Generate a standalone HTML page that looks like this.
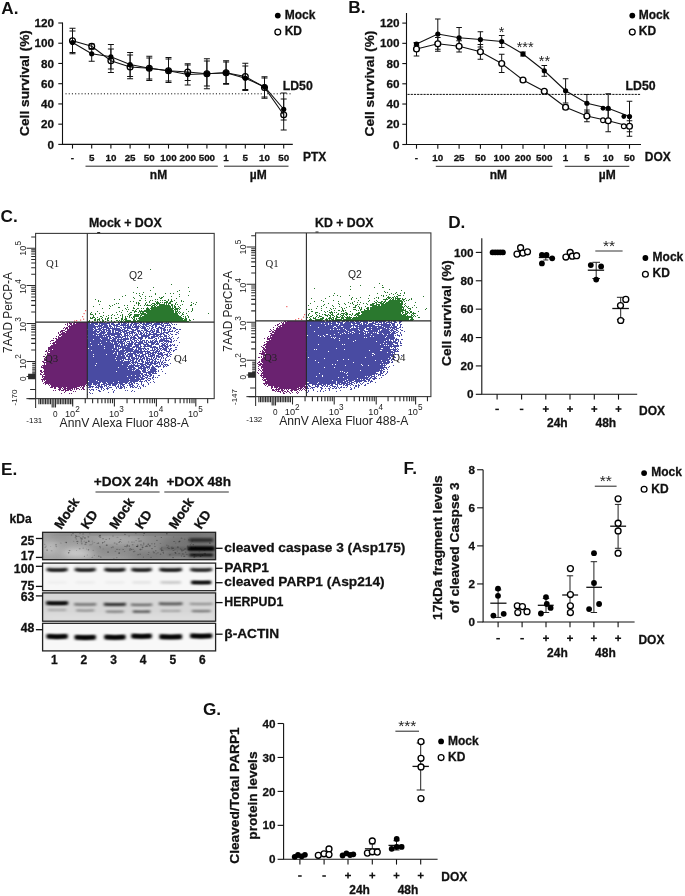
<!DOCTYPE html>
<html><head><meta charset="utf-8"><title>Figure</title><style>html,body{margin:0;padding:0;background:#fff}svg{display:block;will-change:transform}text{white-space:pre}</style></head><body>
<svg width="685" height="896" viewBox="0 0 685 896">
<rect width="685" height="896" fill="#fff"/>
<text x="1.3" y="13.8" font-family="Liberation Sans, sans-serif" font-weight="bold" font-size="17.2" text-anchor="start" fill="#111" >A.</text>
<path d="M62.5 22.6V144.4H292.8" stroke="#111" stroke-width="1.1" fill="none"/>
<line x1="58.3" y1="144.4" x2="62.5" y2="144.4" stroke="#111" stroke-width="1.1" />
<text x="54" y="148.5" font-family="Liberation Sans, sans-serif" font-weight="bold" stroke="#111" stroke-width="0.28" font-size="11.7" text-anchor="end" fill="#111" >0</text>
<line x1="58.3" y1="124.17" x2="62.5" y2="124.17" stroke="#111" stroke-width="1.1" />
<text x="54" y="128.27" font-family="Liberation Sans, sans-serif" font-weight="bold" stroke="#111" stroke-width="0.28" font-size="11.7" text-anchor="end" fill="#111" >20</text>
<line x1="58.3" y1="103.93" x2="62.5" y2="103.93" stroke="#111" stroke-width="1.1" />
<text x="54" y="108.03" font-family="Liberation Sans, sans-serif" font-weight="bold" stroke="#111" stroke-width="0.28" font-size="11.7" text-anchor="end" fill="#111" >40</text>
<line x1="58.3" y1="83.7" x2="62.5" y2="83.7" stroke="#111" stroke-width="1.1" />
<text x="54" y="87.8" font-family="Liberation Sans, sans-serif" font-weight="bold" stroke="#111" stroke-width="0.28" font-size="11.7" text-anchor="end" fill="#111" >60</text>
<line x1="58.3" y1="63.46" x2="62.5" y2="63.46" stroke="#111" stroke-width="1.1" />
<text x="54" y="67.56" font-family="Liberation Sans, sans-serif" font-weight="bold" stroke="#111" stroke-width="0.28" font-size="11.7" text-anchor="end" fill="#111" >80</text>
<line x1="58.3" y1="43.23" x2="62.5" y2="43.23" stroke="#111" stroke-width="1.1" />
<text x="54" y="47.33" font-family="Liberation Sans, sans-serif" font-weight="bold" stroke="#111" stroke-width="0.28" font-size="11.7" text-anchor="end" fill="#111" >100</text>
<line x1="58.3" y1="23" x2="62.5" y2="23" stroke="#111" stroke-width="1.1" />
<text x="54" y="27.1" font-family="Liberation Sans, sans-serif" font-weight="bold" stroke="#111" stroke-width="0.28" font-size="11.7" text-anchor="end" fill="#111" >120</text>
<text x="0" y="0" font-family="Liberation Sans, sans-serif" font-weight="bold" stroke="#111" stroke-width="0.28" font-size="13.7" text-anchor="middle" fill="#111" transform="translate(29.3 83) rotate(-90)" >Cell survival (%)</text>
<line x1="72.5" y1="144.4" x2="72.5" y2="148.6" stroke="#111" stroke-width="1.1" />
<text x="72.5" y="160.7" font-family="Liberation Sans, sans-serif" font-weight="bold" stroke="#111" stroke-width="0.28" font-size="9.8" text-anchor="middle" fill="#111" >-</text>
<line x1="91.7" y1="144.4" x2="91.7" y2="148.6" stroke="#111" stroke-width="1.1" />
<text x="91.7" y="160.7" font-family="Liberation Sans, sans-serif" font-weight="bold" stroke="#111" stroke-width="0.28" font-size="9.8" text-anchor="middle" fill="#111" >5</text>
<line x1="110.9" y1="144.4" x2="110.9" y2="148.6" stroke="#111" stroke-width="1.1" />
<text x="110.9" y="160.7" font-family="Liberation Sans, sans-serif" font-weight="bold" stroke="#111" stroke-width="0.28" font-size="9.8" text-anchor="middle" fill="#111" >10</text>
<line x1="130.1" y1="144.4" x2="130.1" y2="148.6" stroke="#111" stroke-width="1.1" />
<text x="130.1" y="160.7" font-family="Liberation Sans, sans-serif" font-weight="bold" stroke="#111" stroke-width="0.28" font-size="9.8" text-anchor="middle" fill="#111" >25</text>
<line x1="149.3" y1="144.4" x2="149.3" y2="148.6" stroke="#111" stroke-width="1.1" />
<text x="149.3" y="160.7" font-family="Liberation Sans, sans-serif" font-weight="bold" stroke="#111" stroke-width="0.28" font-size="9.8" text-anchor="middle" fill="#111" >50</text>
<line x1="168.5" y1="144.4" x2="168.5" y2="148.6" stroke="#111" stroke-width="1.1" />
<text x="168.5" y="160.7" font-family="Liberation Sans, sans-serif" font-weight="bold" stroke="#111" stroke-width="0.28" font-size="9.8" text-anchor="middle" fill="#111" >100</text>
<line x1="187.7" y1="144.4" x2="187.7" y2="148.6" stroke="#111" stroke-width="1.1" />
<text x="187.7" y="160.7" font-family="Liberation Sans, sans-serif" font-weight="bold" stroke="#111" stroke-width="0.28" font-size="9.8" text-anchor="middle" fill="#111" >200</text>
<line x1="206.9" y1="144.4" x2="206.9" y2="148.6" stroke="#111" stroke-width="1.1" />
<text x="206.9" y="160.7" font-family="Liberation Sans, sans-serif" font-weight="bold" stroke="#111" stroke-width="0.28" font-size="9.8" text-anchor="middle" fill="#111" >500</text>
<line x1="226.1" y1="144.4" x2="226.1" y2="148.6" stroke="#111" stroke-width="1.1" />
<text x="226.1" y="160.7" font-family="Liberation Sans, sans-serif" font-weight="bold" stroke="#111" stroke-width="0.28" font-size="9.8" text-anchor="middle" fill="#111" >1</text>
<line x1="245.3" y1="144.4" x2="245.3" y2="148.6" stroke="#111" stroke-width="1.1" />
<text x="245.3" y="160.7" font-family="Liberation Sans, sans-serif" font-weight="bold" stroke="#111" stroke-width="0.28" font-size="9.8" text-anchor="middle" fill="#111" >5</text>
<line x1="264.5" y1="144.4" x2="264.5" y2="148.6" stroke="#111" stroke-width="1.1" />
<text x="264.5" y="160.7" font-family="Liberation Sans, sans-serif" font-weight="bold" stroke="#111" stroke-width="0.28" font-size="9.8" text-anchor="middle" fill="#111" >10</text>
<line x1="283.7" y1="144.4" x2="283.7" y2="148.6" stroke="#111" stroke-width="1.1" />
<text x="283.7" y="160.7" font-family="Liberation Sans, sans-serif" font-weight="bold" stroke="#111" stroke-width="0.28" font-size="9.8" text-anchor="middle" fill="#111" >50</text>
<text x="303" y="161.2" font-family="Liberation Sans, sans-serif" font-weight="bold" stroke="#111" stroke-width="0.28" font-size="12" text-anchor="start" fill="#111" >PTX</text>
<line x1="85.5" y1="166.2" x2="217.8" y2="166.2" stroke="#111" stroke-width="0.9" />
<line x1="224" y1="166.2" x2="288.5" y2="166.2" stroke="#111" stroke-width="0.9" />
<text x="158.5" y="178.8" font-family="Liberation Sans, sans-serif" font-weight="bold" stroke="#111" stroke-width="0.28" font-size="12" text-anchor="middle" fill="#111" >nM</text>
<text x="258.3" y="178.8" font-family="Liberation Sans, sans-serif" font-weight="bold" stroke="#111" stroke-width="0.28" font-size="12" text-anchor="middle" fill="#111" >µM</text>
<circle cx="277.8" cy="15.6" r="2.9" fill="#000"/>
<text x="284.7" y="19" font-family="Liberation Sans, sans-serif" font-weight="bold" stroke="#111" stroke-width="0.28" font-size="12" text-anchor="start" fill="#111" >Mock</text>
<circle cx="277.8" cy="32.1" r="2.9" fill="#fff" stroke="#000" stroke-width="1.3"/>
<text x="284.7" y="35.3" font-family="Liberation Sans, sans-serif" font-weight="bold" stroke="#111" stroke-width="0.28" font-size="12" text-anchor="start" fill="#111" >KD</text>
<text x="282.7" y="89.6" font-family="Liberation Sans, sans-serif" font-weight="bold" stroke="#111" stroke-width="0.28" font-size="12.3" text-anchor="start" fill="#111" >LD50</text>
<line x1="65.5" y1="93.8" x2="291.3" y2="93.8" stroke="#111" stroke-width="1" stroke-dasharray="1.1 2.1"/>
<path d="M72.5 31V53.75M69.5 31h6M69.5 53.75h6" stroke="#111" stroke-width="1" fill="none"/>
<path d="M91.7 49.25V61.25M88.7 49.25h6M88.7 61.25h6" stroke="#111" stroke-width="1" fill="none"/>
<path d="M110.9 44.5V69M107.9 44.5h6M107.9 69h6" stroke="#111" stroke-width="1" fill="none"/>
<path d="M130.1 52.5V76.5M127.1 52.5h6M127.1 76.5h6" stroke="#111" stroke-width="1" fill="none"/>
<path d="M149.3 56.25V80.5M146.3 56.25h6M146.3 80.5h6" stroke="#111" stroke-width="1" fill="none"/>
<path d="M168.5 59V82.5M165.5 59h6M165.5 82.5h6" stroke="#111" stroke-width="1" fill="none"/>
<path d="M187.7 65V85M184.7 65h6M184.7 85h6" stroke="#111" stroke-width="1" fill="none"/>
<path d="M206.9 61V88.75M203.9 61h6M203.9 88.75h6" stroke="#111" stroke-width="1" fill="none"/>
<path d="M226.1 60.75V84.25M223.1 60.75h6M223.1 84.25h6" stroke="#111" stroke-width="1" fill="none"/>
<path d="M245.3 66V90.5M242.3 66h6M242.3 90.5h6" stroke="#111" stroke-width="1" fill="none"/>
<path d="M264.5 76.75V97M261.5 76.75h6M261.5 97h6" stroke="#111" stroke-width="1" fill="none"/>
<path d="M283.7 99V120M280.7 99h6M280.7 120h6" stroke="#111" stroke-width="1" fill="none"/>
<path d="M72.5 28.25V52.5M69.5 28.25h6M69.5 52.5h6" stroke="#111" stroke-width="1" fill="none"/>
<path d="M91.7 44V48.5M88.7 44h6M88.7 48.5h6" stroke="#111" stroke-width="1" fill="none"/>
<path d="M110.9 49V72.5M107.9 49h6M107.9 72.5h6" stroke="#111" stroke-width="1" fill="none"/>
<path d="M130.1 55V78.75M127.1 55h6M127.1 78.75h6" stroke="#111" stroke-width="1" fill="none"/>
<path d="M149.3 58V79M146.3 58h6M146.3 79h6" stroke="#111" stroke-width="1" fill="none"/>
<path d="M168.5 57.5V81M165.5 57.5h6M165.5 81h6" stroke="#111" stroke-width="1" fill="none"/>
<path d="M187.7 63.75V80.5M184.7 63.75h6M184.7 80.5h6" stroke="#111" stroke-width="1" fill="none"/>
<path d="M206.9 58.75V86M203.9 58.75h6M203.9 86h6" stroke="#111" stroke-width="1" fill="none"/>
<path d="M226.1 62V83.5M223.1 62h6M223.1 83.5h6" stroke="#111" stroke-width="1" fill="none"/>
<path d="M245.3 63.25V89.5M242.3 63.25h6M242.3 89.5h6" stroke="#111" stroke-width="1" fill="none"/>
<path d="M264.5 78V98.25M261.5 78h6M261.5 98.25h6" stroke="#111" stroke-width="1" fill="none"/>
<path d="M283.7 93V130M280.7 93h6M280.7 130h6" stroke="#111" stroke-width="1" fill="none"/>
<polyline points="72.5,42.5 91.7,53.75 110.9,56.75 130.1,64.5 149.3,68.25 168.5,70.75 187.7,74.5 206.9,73.75 226.1,72.75 245.3,78.25 264.5,86.75 283.7,109.25" fill="none" stroke="#111" stroke-width="1.1"/>
<polyline points="72.5,40.75 91.7,46.25 110.9,60.75 130.1,67 149.3,68.25 168.5,70.75 187.7,72 206.9,73.75 226.1,72.75 245.3,76.5 264.5,87.5 283.7,114.75" fill="none" stroke="#111" stroke-width="1.1"/>
<circle cx="72.5" cy="42.5" r="2.6" fill="#000"/>
<circle cx="91.7" cy="53.75" r="2.6" fill="#000"/>
<circle cx="110.9" cy="56.75" r="2.6" fill="#000"/>
<circle cx="130.1" cy="64.5" r="2.6" fill="#000"/>
<circle cx="149.3" cy="68.25" r="2.6" fill="#000"/>
<circle cx="168.5" cy="70.75" r="2.6" fill="#000"/>
<circle cx="187.7" cy="74.5" r="2.6" fill="#000"/>
<circle cx="206.9" cy="73.75" r="2.6" fill="#000"/>
<circle cx="226.1" cy="72.75" r="2.6" fill="#000"/>
<circle cx="245.3" cy="78.25" r="2.6" fill="#000"/>
<circle cx="264.5" cy="86.75" r="2.6" fill="#000"/>
<circle cx="283.7" cy="109.25" r="2.6" fill="#000"/>
<circle cx="72.5" cy="40.75" r="2.9" fill="none" stroke="#000" stroke-width="1.3"/>
<circle cx="91.7" cy="46.25" r="2.9" fill="none" stroke="#000" stroke-width="1.3"/>
<circle cx="110.9" cy="60.75" r="2.9" fill="none" stroke="#000" stroke-width="1.3"/>
<circle cx="130.1" cy="67" r="2.9" fill="none" stroke="#000" stroke-width="1.3"/>
<circle cx="149.3" cy="68.25" r="2.9" fill="none" stroke="#000" stroke-width="1.3"/>
<circle cx="168.5" cy="70.75" r="2.9" fill="none" stroke="#000" stroke-width="1.3"/>
<circle cx="187.7" cy="72" r="2.9" fill="none" stroke="#000" stroke-width="1.3"/>
<circle cx="206.9" cy="73.75" r="2.9" fill="none" stroke="#000" stroke-width="1.3"/>
<circle cx="226.1" cy="72.75" r="2.9" fill="none" stroke="#000" stroke-width="1.3"/>
<circle cx="245.3" cy="76.5" r="2.9" fill="none" stroke="#000" stroke-width="1.3"/>
<circle cx="264.5" cy="87.5" r="2.9" fill="none" stroke="#000" stroke-width="1.3"/>
<circle cx="283.7" cy="114.75" r="2.9" fill="none" stroke="#000" stroke-width="1.3"/>
<text x="348.3" y="13.2" font-family="Liberation Sans, sans-serif" font-weight="bold" font-size="17.2" text-anchor="start" fill="#111" >B.</text>
<path d="M406.5 13V144.5H641" stroke="#111" stroke-width="1.1" fill="none"/>
<line x1="402.3" y1="144.5" x2="406.5" y2="144.5" stroke="#111" stroke-width="1.1" />
<text x="399.4" y="148.6" font-family="Liberation Sans, sans-serif" font-weight="bold" stroke="#111" stroke-width="0.28" font-size="11.7" text-anchor="end" fill="#111" >0</text>
<line x1="402.3" y1="124.27" x2="406.5" y2="124.27" stroke="#111" stroke-width="1.1" />
<text x="399.4" y="128.37" font-family="Liberation Sans, sans-serif" font-weight="bold" stroke="#111" stroke-width="0.28" font-size="11.7" text-anchor="end" fill="#111" >20</text>
<line x1="402.3" y1="104.03" x2="406.5" y2="104.03" stroke="#111" stroke-width="1.1" />
<text x="399.4" y="108.13" font-family="Liberation Sans, sans-serif" font-weight="bold" stroke="#111" stroke-width="0.28" font-size="11.7" text-anchor="end" fill="#111" >40</text>
<line x1="402.3" y1="83.8" x2="406.5" y2="83.8" stroke="#111" stroke-width="1.1" />
<text x="399.4" y="87.9" font-family="Liberation Sans, sans-serif" font-weight="bold" stroke="#111" stroke-width="0.28" font-size="11.7" text-anchor="end" fill="#111" >60</text>
<line x1="402.3" y1="63.56" x2="406.5" y2="63.56" stroke="#111" stroke-width="1.1" />
<text x="399.4" y="67.66" font-family="Liberation Sans, sans-serif" font-weight="bold" stroke="#111" stroke-width="0.28" font-size="11.7" text-anchor="end" fill="#111" >80</text>
<line x1="402.3" y1="43.33" x2="406.5" y2="43.33" stroke="#111" stroke-width="1.1" />
<text x="399.4" y="47.43" font-family="Liberation Sans, sans-serif" font-weight="bold" stroke="#111" stroke-width="0.28" font-size="11.7" text-anchor="end" fill="#111" >100</text>
<line x1="402.3" y1="23.1" x2="406.5" y2="23.1" stroke="#111" stroke-width="1.1" />
<text x="399.4" y="27.2" font-family="Liberation Sans, sans-serif" font-weight="bold" stroke="#111" stroke-width="0.28" font-size="11.7" text-anchor="end" fill="#111" >120</text>
<text x="0" y="0" font-family="Liberation Sans, sans-serif" font-weight="bold" stroke="#111" stroke-width="0.28" font-size="13.7" text-anchor="middle" fill="#111" transform="translate(373.5 83.5) rotate(-90)" >Cell survival (%)</text>
<line x1="416.5" y1="144.5" x2="416.5" y2="148.7" stroke="#111" stroke-width="1.1" />
<text x="416.5" y="160.8" font-family="Liberation Sans, sans-serif" font-weight="bold" stroke="#111" stroke-width="0.28" font-size="9.8" text-anchor="middle" fill="#111" >-</text>
<line x1="437.8" y1="144.5" x2="437.8" y2="148.7" stroke="#111" stroke-width="1.1" />
<text x="437.8" y="160.8" font-family="Liberation Sans, sans-serif" font-weight="bold" stroke="#111" stroke-width="0.28" font-size="9.8" text-anchor="middle" fill="#111" >10</text>
<line x1="459.1" y1="144.5" x2="459.1" y2="148.7" stroke="#111" stroke-width="1.1" />
<text x="459.1" y="160.8" font-family="Liberation Sans, sans-serif" font-weight="bold" stroke="#111" stroke-width="0.28" font-size="9.8" text-anchor="middle" fill="#111" >25</text>
<line x1="480.4" y1="144.5" x2="480.4" y2="148.7" stroke="#111" stroke-width="1.1" />
<text x="480.4" y="160.8" font-family="Liberation Sans, sans-serif" font-weight="bold" stroke="#111" stroke-width="0.28" font-size="9.8" text-anchor="middle" fill="#111" >50</text>
<line x1="501.7" y1="144.5" x2="501.7" y2="148.7" stroke="#111" stroke-width="1.1" />
<text x="501.7" y="160.8" font-family="Liberation Sans, sans-serif" font-weight="bold" stroke="#111" stroke-width="0.28" font-size="9.8" text-anchor="middle" fill="#111" >100</text>
<line x1="523" y1="144.5" x2="523" y2="148.7" stroke="#111" stroke-width="1.1" />
<text x="523" y="160.8" font-family="Liberation Sans, sans-serif" font-weight="bold" stroke="#111" stroke-width="0.28" font-size="9.8" text-anchor="middle" fill="#111" >200</text>
<line x1="544.3" y1="144.5" x2="544.3" y2="148.7" stroke="#111" stroke-width="1.1" />
<text x="544.3" y="160.8" font-family="Liberation Sans, sans-serif" font-weight="bold" stroke="#111" stroke-width="0.28" font-size="9.8" text-anchor="middle" fill="#111" >500</text>
<line x1="565.6" y1="144.5" x2="565.6" y2="148.7" stroke="#111" stroke-width="1.1" />
<text x="565.6" y="160.8" font-family="Liberation Sans, sans-serif" font-weight="bold" stroke="#111" stroke-width="0.28" font-size="9.8" text-anchor="middle" fill="#111" >1</text>
<line x1="586.9" y1="144.5" x2="586.9" y2="148.7" stroke="#111" stroke-width="1.1" />
<text x="586.9" y="160.8" font-family="Liberation Sans, sans-serif" font-weight="bold" stroke="#111" stroke-width="0.28" font-size="9.8" text-anchor="middle" fill="#111" >5</text>
<line x1="608.2" y1="144.5" x2="608.2" y2="148.7" stroke="#111" stroke-width="1.1" />
<text x="608.2" y="160.8" font-family="Liberation Sans, sans-serif" font-weight="bold" stroke="#111" stroke-width="0.28" font-size="9.8" text-anchor="middle" fill="#111" >10</text>
<line x1="629.5" y1="144.5" x2="629.5" y2="148.7" stroke="#111" stroke-width="1.1" />
<text x="629.5" y="160.8" font-family="Liberation Sans, sans-serif" font-weight="bold" stroke="#111" stroke-width="0.28" font-size="9.8" text-anchor="middle" fill="#111" >50</text>
<text x="644.8" y="161.3" font-family="Liberation Sans, sans-serif" font-weight="bold" stroke="#111" stroke-width="0.28" font-size="12" text-anchor="start" fill="#111" >DOX</text>
<line x1="435.8" y1="166.3" x2="552.5" y2="166.3" stroke="#111" stroke-width="0.9" />
<line x1="564.8" y1="166.3" x2="629.3" y2="166.3" stroke="#111" stroke-width="0.9" />
<text x="498.3" y="178.9" font-family="Liberation Sans, sans-serif" font-weight="bold" stroke="#111" stroke-width="0.28" font-size="12" text-anchor="middle" fill="#111" >nM</text>
<text x="607.2" y="178.9" font-family="Liberation Sans, sans-serif" font-weight="bold" stroke="#111" stroke-width="0.28" font-size="12" text-anchor="middle" fill="#111" >µM</text>
<circle cx="632.3" cy="15.6" r="2.9" fill="#000"/>
<text x="638.8" y="19" font-family="Liberation Sans, sans-serif" font-weight="bold" stroke="#111" stroke-width="0.28" font-size="12" text-anchor="start" fill="#111" >Mock</text>
<circle cx="632.3" cy="32.1" r="2.9" fill="#fff" stroke="#000" stroke-width="1.3"/>
<text x="638.8" y="35.3" font-family="Liberation Sans, sans-serif" font-weight="bold" stroke="#111" stroke-width="0.28" font-size="12" text-anchor="start" fill="#111" >KD</text>
<text x="625.5" y="89.6" font-family="Liberation Sans, sans-serif" font-weight="bold" stroke="#111" stroke-width="0.28" font-size="12.3" text-anchor="start" fill="#111" >LD50</text>
<line x1="407.5" y1="94.4" x2="641" y2="94.4" stroke="#111" stroke-width="1" stroke-dasharray="2.2 1"/>
<path d="M416.5 42.5V45.75M413.7 42.5h5.6M413.7 45.75h5.6" stroke="#111" stroke-width="1" fill="none"/>
<path d="M437.8 19V49.25M435 19h5.6M435 49.25h5.6" stroke="#111" stroke-width="1" fill="none"/>
<path d="M459.1 27.5V47.5M456.3 27.5h5.6M456.3 47.5h5.6" stroke="#111" stroke-width="1" fill="none"/>
<path d="M480.4 31.75V47M477.6 31.75h5.6M477.6 47h5.6" stroke="#111" stroke-width="1" fill="none"/>
<path d="M501.7 35.5V47.5M498.9 35.5h5.6M498.9 47.5h5.6" stroke="#111" stroke-width="1" fill="none"/>
<path d="M523 52V56M520.2 52h5.6M520.2 56h5.6" stroke="#111" stroke-width="1" fill="none"/>
<path d="M544.3 65.5V76.25M541.5 65.5h5.6M541.5 76.25h5.6" stroke="#111" stroke-width="1" fill="none"/>
<path d="M565.6 78.75V103M562.8 78.75h5.6M562.8 103h5.6" stroke="#111" stroke-width="1" fill="none"/>
<path d="M586.9 94.5V112M584.1 94.5h5.6M584.1 112h5.6" stroke="#111" stroke-width="1" fill="none"/>
<path d="M608.2 93.75V122.5M605.4 93.75h5.6M605.4 122.5h5.6" stroke="#111" stroke-width="1" fill="none"/>
<path d="M629.5 101.25V131.75M626.7 101.25h5.6M626.7 131.75h5.6" stroke="#111" stroke-width="1" fill="none"/>
<path d="M416.5 43V56M413.7 43h5.6M413.7 56h5.6" stroke="#111" stroke-width="1" fill="none"/>
<path d="M437.8 37.5V51.25M435 37.5h5.6M435 51.25h5.6" stroke="#111" stroke-width="1" fill="none"/>
<path d="M459.1 40.75V52M456.3 40.75h5.6M456.3 52h5.6" stroke="#111" stroke-width="1" fill="none"/>
<path d="M480.4 44.5V59.25M477.6 44.5h5.6M477.6 59.25h5.6" stroke="#111" stroke-width="1" fill="none"/>
<path d="M501.7 54.25V72.5M498.9 54.25h5.6M498.9 72.5h5.6" stroke="#111" stroke-width="1" fill="none"/>
<path d="M565.6 105V109.25M562.8 105h5.6M562.8 109.25h5.6" stroke="#111" stroke-width="1" fill="none"/>
<path d="M586.9 110V121.75M584.1 110h5.6M584.1 121.75h5.6" stroke="#111" stroke-width="1" fill="none"/>
<path d="M608.2 110V131.75M605.4 110h5.6M605.4 131.75h5.6" stroke="#111" stroke-width="1" fill="none"/>
<path d="M629.5 120.75V136.25M626.7 120.75h5.6M626.7 136.25h5.6" stroke="#111" stroke-width="1" fill="none"/>
<polyline points="416.5,44 437.8,34 459.1,37.75 480.4,39.5 501.7,41.5 523,54 544.3,70.75 565.6,90.75 586.9,103.25 608.2,108.25 629.5,116.5" fill="none" stroke="#111" stroke-width="1.1"/>
<polyline points="416.5,49 437.8,43.75 459.1,46.25 480.4,51.75 501.7,63.5 523,80 544.3,91.25 565.6,107.25 586.9,116 608.2,120.75 629.5,126.25" fill="none" stroke="#111" stroke-width="1.1"/>
<circle cx="416.5" cy="44" r="2.6" fill="#000"/>
<circle cx="437.8" cy="34" r="2.6" fill="#000"/>
<circle cx="459.1" cy="37.75" r="2.6" fill="#000"/>
<circle cx="480.4" cy="39.5" r="2.6" fill="#000"/>
<circle cx="501.7" cy="41.5" r="2.6" fill="#000"/>
<circle cx="523" cy="54" r="2.6" fill="#000"/>
<circle cx="544.3" cy="70.75" r="2.6" fill="#000"/>
<circle cx="565.6" cy="90.75" r="2.6" fill="#000"/>
<circle cx="586.9" cy="103.25" r="2.6" fill="#000"/>
<circle cx="608.2" cy="108.25" r="2.6" fill="#000"/>
<circle cx="629.5" cy="116.5" r="2.6" fill="#000"/>
<circle cx="603" cy="108.25" r="2.4" fill="#000"/>
<circle cx="623.8" cy="116.5" r="2.4" fill="#000"/>
<circle cx="603" cy="120.25" r="2.4" fill="#fff" stroke="#000" stroke-width="1.1"/>
<circle cx="623.8" cy="126.25" r="2.4" fill="#fff" stroke="#000" stroke-width="1.1"/>
<circle cx="416.5" cy="49" r="2.9" fill="#fff" stroke="#000" stroke-width="1.4"/>
<circle cx="437.8" cy="43.75" r="2.9" fill="#fff" stroke="#000" stroke-width="1.4"/>
<circle cx="459.1" cy="46.25" r="2.9" fill="#fff" stroke="#000" stroke-width="1.4"/>
<circle cx="480.4" cy="51.75" r="2.9" fill="#fff" stroke="#000" stroke-width="1.4"/>
<circle cx="501.7" cy="63.5" r="2.9" fill="#fff" stroke="#000" stroke-width="1.4"/>
<circle cx="523" cy="80" r="2.9" fill="#fff" stroke="#000" stroke-width="1.4"/>
<circle cx="544.3" cy="91.25" r="2.9" fill="#fff" stroke="#000" stroke-width="1.4"/>
<circle cx="565.6" cy="107.25" r="2.9" fill="#fff" stroke="#000" stroke-width="1.4"/>
<circle cx="586.9" cy="116" r="2.9" fill="#fff" stroke="#000" stroke-width="1.4"/>
<circle cx="608.2" cy="120.75" r="2.9" fill="#fff" stroke="#000" stroke-width="1.4"/>
<circle cx="629.5" cy="126.25" r="2.9" fill="#fff" stroke="#000" stroke-width="1.4"/>
<text x="501.7" y="36.6" font-family="Liberation Sans, sans-serif" font-size="14.5" text-anchor="middle" fill="#222" >*</text>
<text x="525.2" y="52.1" font-family="Liberation Sans, sans-serif" font-size="14.5" text-anchor="middle" fill="#222" >***</text>
<text x="544.4" y="66.3" font-family="Liberation Sans, sans-serif" font-size="14.5" text-anchor="middle" fill="#222" >**</text>
<defs><filter id="sb" x="-5%" y="-5%" width="110%" height="110%"><feGaussianBlur stdDeviation="0.35"/></filter></defs>
<path d="M69 322.5h1M72 322.5h1M74 322.5h13M67 323.5h1M69 323.5h3M73 323.5h2M76 323.5h11M65 324.5h1M67 324.5h1M70 324.5h2M73 324.5h14M67 325.5h1M69 325.5h1M71 325.5h16M68 326.5h19M64 327.5h1M66 327.5h2M69 327.5h18M63 328.5h1M65 328.5h3M69 328.5h18M65 329.5h1M67 329.5h20M61 330.5h4M67 330.5h20M60 331.5h3M65 331.5h22M58 332.5h1M60 332.5h1M62 332.5h3M66 332.5h21M58 333.5h1M61 333.5h26M59 334.5h28M59 335.5h2M62 335.5h25M56 336.5h1M58 336.5h1M61 336.5h26M58 337.5h29M53 338.5h1M55 338.5h2M58 338.5h29M56 339.5h31M51 340.5h3M56 340.5h31M50 341.5h1M55 341.5h32M53 342.5h34M50 343.5h1M52 343.5h3M56 343.5h31M53 344.5h34M51 345.5h36M50 346.5h37M48 347.5h39M48 348.5h39M48 349.5h4M53 349.5h34M46 350.5h1M48 350.5h1M50 350.5h37M45 351.5h2M48 351.5h39M47 352.5h1M50 352.5h37M47 353.5h40M45 354.5h1M47 354.5h40M47 355.5h40M43 356.5h2M47 356.5h40M45 357.5h42M44 358.5h1M46 358.5h41M44 359.5h43M44 360.5h43M42 361.5h2M46 361.5h41M43 362.5h44M44 363.5h1M46 363.5h41M44 364.5h1M46 364.5h41M42 365.5h45M41 366.5h1M43 366.5h44M41 367.5h46M43 368.5h44M44 369.5h43M40 370.5h2M44 370.5h43M40 371.5h2M43 371.5h44M41 372.5h2M44 372.5h43M40 373.5h1M44 373.5h43M40 374.5h2M43 374.5h44M42 375.5h1M45 375.5h42M42 376.5h45M42 377.5h1M44 377.5h43M43 378.5h44M41 379.5h46M42 380.5h1M44 380.5h1M46 380.5h41M42 381.5h1M45 381.5h42M44 382.5h43M43 383.5h1M45 383.5h42M45 384.5h1M48 384.5h1M50 384.5h36M49 385.5h1M51 385.5h34M86 385.5h1M51 386.5h29M81 386.5h1M83 386.5h2M50 387.5h3M54 387.5h2M58 387.5h4M63 387.5h3M67 387.5h10M80 387.5h1M82 387.5h2M54 388.5h2M59 388.5h2M62 388.5h1M64 388.5h9M74 388.5h1M76 388.5h3M82 388.5h2M58 389.5h3M63 389.5h3M67 389.5h4M72 389.5h1M74 389.5h1M76 389.5h1M79 389.5h1M81 389.5h1M83 389.5h2M53 390.5h1M55 390.5h1M59 390.5h1M61 390.5h3M65 390.5h4M70 390.5h2M65 391.5h1M73 391.5h1M75 391.5h1M64 392.5h1M61 393.5h1M69 393.5h1M71 393.5h1" stroke="#6a2070" stroke-width="1" fill="none" filter="url(#sb)"/>
<path d="M87 322.5h16M104 322.5h1M107 322.5h4M112 322.5h4M118 322.5h8M127 322.5h2M131 322.5h5M139 322.5h3M143 322.5h1M146 322.5h4M151 322.5h3M156 322.5h7M166 322.5h1M168 322.5h1M170 322.5h1M87 323.5h3M91 323.5h7M99 323.5h11M111 323.5h3M118 323.5h2M121 323.5h1M123 323.5h4M128 323.5h1M131 323.5h2M134 323.5h5M140 323.5h2M143 323.5h2M146 323.5h6M154 323.5h6M161 323.5h2M164 323.5h5M171 323.5h1M87 324.5h7M95 324.5h3M99 324.5h1M101 324.5h6M109 324.5h1M111 324.5h4M116 324.5h4M121 324.5h5M127 324.5h2M130 324.5h2M133 324.5h4M139 324.5h1M142 324.5h7M151 324.5h1M153 324.5h9M163 324.5h1M167 324.5h1M169 324.5h1M172 324.5h1M174 324.5h1M176 324.5h1M87 325.5h8M98 325.5h5M104 325.5h4M109 325.5h2M113 325.5h5M120 325.5h9M130 325.5h2M133 325.5h1M135 325.5h2M138 325.5h1M140 325.5h1M143 325.5h1M145 325.5h2M149 325.5h2M152 325.5h2M155 325.5h2M161 325.5h3M165 325.5h6M87 326.5h15M103 326.5h5M109 326.5h3M114 326.5h1M116 326.5h4M123 326.5h1M125 326.5h1M127 326.5h4M132 326.5h1M134 326.5h6M141 326.5h4M146 326.5h3M151 326.5h2M155 326.5h2M159 326.5h1M162 326.5h2M165 326.5h1M170 326.5h1M87 327.5h9M97 327.5h1M99 327.5h1M101 327.5h8M110 327.5h1M112 327.5h1M114 327.5h1M116 327.5h1M120 327.5h2M123 327.5h8M132 327.5h7M140 327.5h1M142 327.5h4M149 327.5h1M152 327.5h2M155 327.5h1M158 327.5h4M164 327.5h2M167 327.5h1M169 327.5h1M171 327.5h1M173 327.5h2M87 328.5h6M94 328.5h2M98 328.5h4M103 328.5h1M106 328.5h14M121 328.5h1M124 328.5h2M127 328.5h5M136 328.5h3M141 328.5h5M147 328.5h1M149 328.5h1M151 328.5h2M156 328.5h3M160 328.5h5M170 328.5h1M173 328.5h3M88 329.5h6M95 329.5h6M102 329.5h5M108 329.5h2M112 329.5h9M122 329.5h3M127 329.5h1M131 329.5h3M135 329.5h3M144 329.5h3M148 329.5h1M151 329.5h1M153 329.5h2M157 329.5h2M161 329.5h1M163 329.5h3M167 329.5h1M169 329.5h2M176 329.5h2M179 329.5h2M87 330.5h6M94 330.5h3M99 330.5h3M103 330.5h2M106 330.5h5M112 330.5h2M115 330.5h8M124 330.5h5M132 330.5h4M137 330.5h3M141 330.5h2M144 330.5h4M150 330.5h3M154 330.5h1M156 330.5h3M161 330.5h1M163 330.5h3M167 330.5h1M169 330.5h1M172 330.5h1M175 330.5h1M87 331.5h13M101 331.5h4M106 331.5h1M108 331.5h3M112 331.5h2M115 331.5h1M118 331.5h3M122 331.5h5M129 331.5h5M137 331.5h4M143 331.5h1M146 331.5h5M152 331.5h3M156 331.5h3M161 331.5h1M164 331.5h1M168 331.5h5M174 331.5h1M178 331.5h1M87 332.5h9M97 332.5h2M100 332.5h6M107 332.5h4M112 332.5h2M115 332.5h4M120 332.5h2M123 332.5h2M126 332.5h4M131 332.5h5M138 332.5h1M140 332.5h2M143 332.5h1M145 332.5h2M149 332.5h1M151 332.5h3M156 332.5h4M161 332.5h1M163 332.5h6M176 332.5h2M87 333.5h10M99 333.5h6M107 333.5h14M124 333.5h4M129 333.5h4M134 333.5h1M136 333.5h1M138 333.5h1M140 333.5h3M144 333.5h1M146 333.5h2M149 333.5h2M153 333.5h4M160 333.5h4M166 333.5h2M170 333.5h1M178 333.5h1M87 334.5h6M94 334.5h8M103 334.5h1M105 334.5h17M124 334.5h2M127 334.5h1M129 334.5h1M132 334.5h1M135 334.5h3M139 334.5h3M143 334.5h2M146 334.5h1M148 334.5h14M163 334.5h2M168 334.5h1M171 334.5h2M175 334.5h2M88 335.5h8M97 335.5h1M99 335.5h8M108 335.5h2M111 335.5h4M117 335.5h3M121 335.5h1M124 335.5h5M130 335.5h1M132 335.5h1M134 335.5h4M141 335.5h9M153 335.5h2M156 335.5h3M160 335.5h1M164 335.5h3M169 335.5h1M87 336.5h16M104 336.5h1M106 336.5h5M114 336.5h7M122 336.5h4M127 336.5h1M129 336.5h1M131 336.5h1M133 336.5h2M137 336.5h2M141 336.5h8M151 336.5h7M159 336.5h4M164 336.5h3M168 336.5h1M172 336.5h1M87 337.5h21M109 337.5h2M112 337.5h2M115 337.5h8M125 337.5h1M127 337.5h1M130 337.5h6M138 337.5h5M145 337.5h2M148 337.5h2M151 337.5h4M158 337.5h1M160 337.5h1M163 337.5h1M166 337.5h1M169 337.5h1M171 337.5h1M178 337.5h1M88 338.5h12M101 338.5h7M109 338.5h3M113 338.5h4M118 338.5h1M121 338.5h1M123 338.5h6M130 338.5h2M133 338.5h4M138 338.5h5M145 338.5h1M148 338.5h5M155 338.5h2M158 338.5h1M161 338.5h1M163 338.5h8M173 338.5h1M177 338.5h1M87 339.5h6M94 339.5h7M102 339.5h8M112 339.5h4M117 339.5h12M130 339.5h1M132 339.5h3M137 339.5h1M140 339.5h2M154 339.5h1M156 339.5h1M160 339.5h5M166 339.5h1M170 339.5h2M87 340.5h29M117 340.5h2M120 340.5h2M123 340.5h3M130 340.5h2M134 340.5h3M138 340.5h1M140 340.5h1M142 340.5h3M146 340.5h2M150 340.5h1M152 340.5h2M155 340.5h2M159 340.5h10M171 340.5h1M174 340.5h1M176 340.5h1M87 341.5h19M107 341.5h3M111 341.5h13M125 341.5h1M127 341.5h3M131 341.5h2M134 341.5h1M136 341.5h1M139 341.5h4M144 341.5h1M146 341.5h1M148 341.5h1M150 341.5h3M154 341.5h4M159 341.5h4M164 341.5h8M173 341.5h1M87 342.5h3M91 342.5h9M101 342.5h10M112 342.5h1M114 342.5h3M118 342.5h5M124 342.5h1M126 342.5h1M129 342.5h1M131 342.5h3M135 342.5h8M144 342.5h3M148 342.5h8M157 342.5h1M159 342.5h1M163 342.5h1M166 342.5h1M168 342.5h1M170 342.5h2M179 342.5h1M87 343.5h26M114 343.5h5M120 343.5h5M127 343.5h6M134 343.5h2M138 343.5h6M146 343.5h2M151 343.5h4M156 343.5h3M161 343.5h2M164 343.5h2M167 343.5h1M87 344.5h11M99 344.5h2M102 344.5h16M119 344.5h1M121 344.5h2M124 344.5h1M126 344.5h1M128 344.5h5M134 344.5h7M143 344.5h6M151 344.5h3M155 344.5h4M162 344.5h3M166 344.5h2M170 344.5h1M172 344.5h1M174 344.5h1M87 345.5h4M92 345.5h22M115 345.5h5M121 345.5h2M124 345.5h8M135 345.5h4M140 345.5h1M144 345.5h2M147 345.5h5M159 345.5h1M161 345.5h5M167 345.5h1M169 345.5h3M173 345.5h2M177 345.5h1M87 346.5h17M105 346.5h9M115 346.5h11M127 346.5h5M133 346.5h6M140 346.5h2M143 346.5h9M153 346.5h3M159 346.5h4M164 346.5h5M170 346.5h1M87 347.5h27M115 347.5h2M118 347.5h1M120 347.5h10M132 347.5h3M136 347.5h5M144 347.5h1M150 347.5h8M159 347.5h1M162 347.5h2M165 347.5h3M175 347.5h2M87 348.5h1M89 348.5h15M105 348.5h12M118 348.5h3M122 348.5h11M136 348.5h1M138 348.5h8M147 348.5h2M152 348.5h1M154 348.5h1M156 348.5h2M159 348.5h3M163 348.5h4M168 348.5h1M170 348.5h2M87 349.5h25M113 349.5h6M122 349.5h2M125 349.5h9M135 349.5h2M138 349.5h4M143 349.5h1M145 349.5h2M148 349.5h1M152 349.5h1M154 349.5h2M157 349.5h2M160 349.5h1M162 349.5h5M169 349.5h2M175 349.5h2M87 350.5h4M92 350.5h23M116 350.5h3M120 350.5h13M134 350.5h5M140 350.5h2M144 350.5h1M147 350.5h1M150 350.5h5M156 350.5h2M159 350.5h1M161 350.5h1M164 350.5h3M169 350.5h1M171 350.5h1M173 350.5h2M87 351.5h38M126 351.5h24M153 351.5h1M155 351.5h5M166 351.5h4M173 351.5h1M87 352.5h27M115 352.5h2M118 352.5h6M125 352.5h3M130 352.5h1M133 352.5h10M145 352.5h1M147 352.5h4M152 352.5h5M158 352.5h1M160 352.5h2M163 352.5h2M168 352.5h1M170 352.5h1M87 353.5h26M114 353.5h3M118 353.5h8M128 353.5h8M137 353.5h2M140 353.5h3M145 353.5h4M150 353.5h4M155 353.5h1M157 353.5h6M167 353.5h1M169 353.5h1M87 354.5h6M94 354.5h12M107 354.5h10M118 354.5h6M125 354.5h1M127 354.5h6M134 354.5h3M139 354.5h1M142 354.5h4M148 354.5h3M152 354.5h3M158 354.5h5M164 354.5h4M170 354.5h2M87 355.5h34M122 355.5h3M126 355.5h2M129 355.5h4M135 355.5h5M141 355.5h3M145 355.5h1M148 355.5h1M150 355.5h5M156 355.5h3M161 355.5h3M166 355.5h2M169 355.5h1M87 356.5h6M94 356.5h22M117 356.5h8M126 356.5h7M135 356.5h2M138 356.5h6M145 356.5h2M148 356.5h5M154 356.5h1M156 356.5h5M162 356.5h1M167 356.5h2M170 356.5h1M87 357.5h39M128 357.5h2M131 357.5h4M136 357.5h1M138 357.5h1M140 357.5h2M143 357.5h2M146 357.5h2M151 357.5h1M153 357.5h2M156 357.5h1M158 357.5h2M161 357.5h1M163 357.5h1M166 357.5h1M87 358.5h28M116 358.5h10M128 358.5h2M131 358.5h8M140 358.5h1M142 358.5h3M146 358.5h4M151 358.5h1M153 358.5h1M155 358.5h2M161 358.5h1M163 358.5h1M165 358.5h1M174 358.5h1M87 359.5h35M123 359.5h1M125 359.5h6M132 359.5h3M136 359.5h2M139 359.5h4M144 359.5h1M146 359.5h2M149 359.5h4M154 359.5h2M157 359.5h2M160 359.5h1M165 359.5h1M169 359.5h1M87 360.5h29M117 360.5h3M121 360.5h3M128 360.5h1M130 360.5h4M136 360.5h1M138 360.5h2M141 360.5h2M146 360.5h4M152 360.5h2M155 360.5h1M160 360.5h1M163 360.5h1M165 360.5h2M168 360.5h1M87 361.5h36M124 361.5h7M132 361.5h2M135 361.5h2M138 361.5h2M141 361.5h3M145 361.5h1M147 361.5h1M149 361.5h1M151 361.5h2M154 361.5h3M158 361.5h1M160 361.5h1M162 361.5h1M87 362.5h43M131 362.5h7M142 362.5h2M145 362.5h8M154 362.5h2M157 362.5h3M161 362.5h2M164 362.5h2M87 363.5h9M97 363.5h34M132 363.5h2M135 363.5h1M137 363.5h6M145 363.5h4M150 363.5h8M159 363.5h1M161 363.5h1M163 363.5h1M170 363.5h1M87 364.5h35M123 364.5h6M131 364.5h1M133 364.5h2M137 364.5h1M140 364.5h6M147 364.5h5M154 364.5h2M159 364.5h1M161 364.5h2M164 364.5h4M87 365.5h8M96 365.5h32M129 365.5h11M141 365.5h3M145 365.5h2M149 365.5h2M152 365.5h1M156 365.5h2M160 365.5h1M163 365.5h1M165 365.5h1M167 365.5h2M87 366.5h47M135 366.5h4M140 366.5h5M146 366.5h4M152 366.5h2M155 366.5h6M163 366.5h2M166 366.5h1M87 367.5h31M119 367.5h8M128 367.5h7M138 367.5h4M143 367.5h7M151 367.5h4M158 367.5h1M163 367.5h1M87 368.5h45M133 368.5h3M138 368.5h8M147 368.5h1M149 368.5h1M151 368.5h5M87 369.5h41M129 369.5h6M136 369.5h3M141 369.5h1M143 369.5h3M148 369.5h1M150 369.5h7M161 369.5h1M87 370.5h45M133 370.5h1M135 370.5h5M142 370.5h4M147 370.5h1M150 370.5h6M158 370.5h1M87 371.5h29M117 371.5h24M142 371.5h4M148 371.5h9M158 371.5h1M162 371.5h1M87 372.5h54M143 372.5h11M155 372.5h1M87 373.5h56M146 373.5h1M148 373.5h3M152 373.5h5M165 373.5h1M87 374.5h53M141 374.5h2M144 374.5h3M149 374.5h3M87 375.5h44M132 375.5h3M136 375.5h5M142 375.5h2M145 375.5h4M150 375.5h2M153 375.5h1M158 375.5h2M87 376.5h40M128 376.5h13M142 376.5h3M147 376.5h1M149 376.5h2M153 376.5h1M87 377.5h52M140 377.5h3M145 377.5h3M152 377.5h2M155 377.5h1M157 377.5h1M87 378.5h48M136 378.5h4M141 378.5h4M146 378.5h1M148 378.5h3M152 378.5h1M87 379.5h42M130 379.5h14M147 379.5h1M150 379.5h1M153 379.5h1M87 380.5h9M97 380.5h42M140 380.5h1M145 380.5h2M148 380.5h2M87 381.5h1M89 381.5h9M99 381.5h19M119 381.5h10M130 381.5h8M139 381.5h4M144 381.5h1M146 381.5h1M153 381.5h1M87 382.5h14M102 382.5h4M107 382.5h6M114 382.5h14M129 382.5h3M133 382.5h2M141 382.5h1M147 382.5h1M150 382.5h1M154 382.5h1M87 383.5h5M93 383.5h7M103 383.5h4M108 383.5h10M119 383.5h4M125 383.5h2M128 383.5h2M131 383.5h2M134 383.5h1M136 383.5h2M141 383.5h1M148 383.5h1M87 384.5h5M93 384.5h4M98 384.5h2M101 384.5h4M106 384.5h5M112 384.5h5M118 384.5h1M120 384.5h5M129 384.5h4M138 384.5h1M141 384.5h1M143 384.5h1M148 384.5h1M88 385.5h3M95 385.5h1M97 385.5h3M101 385.5h1M104 385.5h3M109 385.5h2M112 385.5h4M118 385.5h1M120 385.5h1M122 385.5h2M127 385.5h1M129 385.5h2M132 385.5h2M137 385.5h1M142 385.5h2M87 386.5h1M89 386.5h5M96 386.5h1M98 386.5h5M104 386.5h1M106 386.5h1M108 386.5h1M115 386.5h1M117 386.5h2M120 386.5h2M123 386.5h2M130 386.5h3M134 386.5h1M137 386.5h1M139 386.5h1M143 386.5h1M145 386.5h1M88 387.5h3M92 387.5h1M95 387.5h4M100 387.5h3M107 387.5h1M109 387.5h3M116 387.5h1M118 387.5h1M120 387.5h3M124 387.5h1M126 387.5h1M130 387.5h1M132 387.5h2M135 387.5h2M140 387.5h1M98 388.5h1M101 388.5h1M103 388.5h1M106 388.5h3M116 388.5h1M119 388.5h3M124 388.5h1M138 388.5h1M140 388.5h1M87 389.5h1M89 389.5h1M91 389.5h3M96 389.5h1M101 389.5h1M104 389.5h1M107 389.5h1M112 389.5h1M90 390.5h1M93 390.5h1M98 390.5h2M103 390.5h1M114 390.5h1M125 390.5h1M127 390.5h1M132 390.5h1M99 391.5h2M113 391.5h1M131 391.5h1M134 391.5h1M89 392.5h1M108 392.5h1M113 392.5h1M90 393.5h1M92 393.5h1M87 394.5h1" stroke="#484ca2" stroke-width="1" fill="none" filter="url(#sb)"/>
<path d="M150 269.5h1M171 284.5h1M137 287.5h1M153 287.5h1M188 287.5h1M150 290.5h1M179 290.5h1M177 291.5h1M189 291.5h1M133 292.5h1M143 292.5h1M136 293.5h1M139 293.5h1M155 293.5h1M165 293.5h1M170 293.5h1M173 293.5h1M142 294.5h1M155 294.5h1M179 294.5h1M125 295.5h1M139 295.5h1M188 295.5h1M122 296.5h1M140 296.5h1M145 296.5h1M149 296.5h1M151 296.5h1M163 296.5h1M171 296.5h1M179 296.5h1M133 297.5h1M159 297.5h1M161 297.5h2M134 298.5h1M141 298.5h1M145 298.5h1M160 298.5h2M176 298.5h1M95 299.5h1M114 299.5h1M119 299.5h1M155 299.5h1M157 299.5h1M168 299.5h1M171 299.5h1M98 300.5h1M139 300.5h2M145 300.5h1M150 300.5h1M152 300.5h1M160 300.5h1M162 300.5h1M164 300.5h2M168 300.5h1M171 300.5h1M174 300.5h1M181 300.5h1M98 301.5h1M100 301.5h1M130 301.5h1M133 301.5h1M149 301.5h1M155 301.5h1M157 301.5h1M166 301.5h2M170 301.5h3M181 301.5h1M183 301.5h1M136 302.5h1M138 302.5h1M146 302.5h1M149 302.5h1M156 302.5h3M160 302.5h1M162 302.5h1M164 302.5h4M169 302.5h2M176 302.5h1M191 302.5h1M196 302.5h1M116 303.5h1M118 303.5h1M136 303.5h1M138 303.5h2M145 303.5h1M152 303.5h3M156 303.5h4M164 303.5h1M166 303.5h1M168 303.5h3M175 303.5h1M193 303.5h1M99 304.5h1M114 304.5h1M138 304.5h1M145 304.5h1M147 304.5h1M151 304.5h1M154 304.5h2M157 304.5h1M159 304.5h6M166 304.5h1M168 304.5h1M171 304.5h2M175 304.5h1M177 304.5h1M182 304.5h1M191 304.5h1M195 304.5h1M109 305.5h1M112 305.5h1M124 305.5h1M127 305.5h1M134 305.5h1M138 305.5h1M140 305.5h1M144 305.5h1M146 305.5h5M152 305.5h3M156 305.5h1M159 305.5h11M171 305.5h2M174 305.5h1M180 305.5h1M190 305.5h2M93 306.5h1M110 306.5h1M151 306.5h2M154 306.5h2M157 306.5h14M172 306.5h1M174 306.5h2M178 306.5h1M118 307.5h2M127 307.5h1M133 307.5h1M147 307.5h1M151 307.5h20M172 307.5h1M174 307.5h2M179 307.5h1M102 308.5h1M109 308.5h1M125 308.5h1M133 308.5h2M137 308.5h2M141 308.5h1M143 308.5h1M146 308.5h3M150 308.5h24M175 308.5h4M180 308.5h1M192 308.5h1M126 309.5h1M128 309.5h1M136 309.5h1M146 309.5h4M151 309.5h22M174 309.5h4M179 309.5h1M186 309.5h1M192 309.5h1M122 310.5h1M132 310.5h2M135 310.5h1M139 310.5h1M141 310.5h1M144 310.5h30M175 310.5h1M177 310.5h1M192 310.5h1M97 311.5h1M119 311.5h1M127 311.5h1M134 311.5h3M139 311.5h35M175 311.5h3M179 311.5h1M188 311.5h1M191 311.5h1M91 312.5h1M103 312.5h1M116 312.5h1M121 312.5h1M130 312.5h2M134 312.5h1M138 312.5h1M140 312.5h1M142 312.5h2M146 312.5h28M175 312.5h2M178 312.5h1M180 312.5h1M183 312.5h1M90 313.5h1M95 313.5h1M99 313.5h1M129 313.5h1M140 313.5h6M147 313.5h31M179 313.5h1M182 313.5h1M186 313.5h1M208 313.5h1M90 314.5h3M95 314.5h1M112 314.5h1M117 314.5h1M122 314.5h1M128 314.5h1M130 314.5h2M134 314.5h6M141 314.5h37M182 314.5h2M93 315.5h1M103 315.5h1M108 315.5h1M111 315.5h1M114 315.5h1M120 315.5h1M122 315.5h1M129 315.5h2M134 315.5h5M140 315.5h2M144 315.5h35M181 315.5h1M187 315.5h1M93 316.5h1M100 316.5h2M106 316.5h1M122 316.5h1M125 316.5h1M127 316.5h1M129 316.5h1M133 316.5h6M140 316.5h1M142 316.5h39M183 316.5h1M185 316.5h1M188 316.5h1M90 317.5h1M92 317.5h3M97 317.5h1M102 317.5h1M108 317.5h1M111 317.5h1M118 317.5h1M122 317.5h1M125 317.5h1M129 317.5h1M131 317.5h1M133 317.5h2M139 317.5h43M185 317.5h1M188 317.5h1M90 318.5h3M95 318.5h1M99 318.5h1M101 318.5h1M105 318.5h1M107 318.5h2M111 318.5h1M115 318.5h2M121 318.5h2M125 318.5h2M132 318.5h1M134 318.5h1M136 318.5h1M138 318.5h46M185 318.5h2M94 319.5h2M97 319.5h3M102 319.5h1M105 319.5h1M107 319.5h1M121 319.5h2M124 319.5h3M133 319.5h2M136 319.5h1M139 319.5h44M184 319.5h3M189 319.5h1M193 319.5h1M89 320.5h1M94 320.5h2M97 320.5h1M99 320.5h1M102 320.5h2M107 320.5h2M111 320.5h1M116 320.5h2M119 320.5h1M121 320.5h1M123 320.5h1M125 320.5h6M133 320.5h3M137 320.5h50M189 320.5h2M88 321.5h2M92 321.5h1M97 321.5h1M100 321.5h1M102 321.5h2M105 321.5h1M111 321.5h1M114 321.5h1M118 321.5h1M120 321.5h3M124 321.5h65" stroke="#2c782f" stroke-width="1" fill="none" filter="url(#sb)"/>
<rect x="82" y="316" width="1.2" height="1.2" fill="#f06060"/>
<rect x="83.5" y="313" width="1.2" height="1.2" fill="#f06060"/>
<rect x="80" y="319.5" width="1.2" height="1.2" fill="#f06060"/>
<rect x="76" y="320" width="1.2" height="1.2" fill="#f06060"/>
<rect x="83" y="318.6" width="1.2" height="1.2" fill="#f06060"/>
<rect x="74" y="320.5" width="1.2" height="1.2" fill="#f06060"/>
<rect x="85" y="310" width="1.2" height="1.2" fill="#f06060"/>
<rect x="35.6" y="233.4" width="178.6" height="165.2" fill="none" stroke="#3a3a3a" stroke-width="1.1"/>
<line x1="87.3" y1="233.4" x2="87.3" y2="398.6" stroke="#2a2a2a" stroke-width="1.1" />
<line x1="35.6" y1="322.1" x2="214.2" y2="322.1" stroke="#2a2a2a" stroke-width="1.1" />
<line x1="26.4" y1="398.6" x2="35.6" y2="398.6" stroke="#3a3a3a" stroke-width="1.1" />
<line x1="35.6" y1="398.6" x2="35.6" y2="408" stroke="#3a3a3a" stroke-width="1.1" />
<text x="89" y="227.2" font-family="Liberation Sans, sans-serif" font-weight="bold" stroke="#111" stroke-width="0.28" font-size="12.4" text-anchor="start" fill="#111" textLength="72.7" lengthAdjust="spacingAndGlyphs" >Mock + DOX</text>
<line x1="97.2" y1="232.5" x2="100.2" y2="232.5" stroke="#222" stroke-width="1" />
<path d="M38.9 398.6v5.6M40.56 398.6v5.6M42.22 398.6v5.6M43.88 398.6v5.6M45.54 398.6v5.6M47.2 398.6v5.6M48.86 398.6v5.6M50.52 398.6v5.6M52.18 398.6v9M53.84 398.6v9M55.5 398.6v9M57.16 398.6v5.6M58.82 398.6v5.6M60.48 398.6v5.6M62.14 398.6v5.6M63.8 398.6v5.6M65.46 398.6v5.6M67.12 398.6v5.6M68.78 398.6v5.6M70.44 398.6v5.6M72.1 398.6v5.6M72.7 398.6v8M85.25 398.6v4.6M92.6 398.6v4.6M97.81 398.6v4.6M101.85 398.6v4.6M105.15 398.6v4.6M107.94 398.6v4.6M110.36 398.6v4.6M112.49 398.6v4.6M114.4 398.6v8M127.04 398.6v4.6M134.44 398.6v4.6M139.69 398.6v4.6M143.76 398.6v4.6M147.08 398.6v4.6M149.89 398.6v4.6M152.33 398.6v4.6M154.48 398.6v4.6M156.4 398.6v8M168.26 398.6v4.6M175.2 398.6v4.6M180.12 398.6v4.6M183.94 398.6v4.6M187.06 398.6v4.6M189.7 398.6v4.6M191.98 398.6v4.6M194 398.6v4.6M195.8 398.6v8M207.66 398.6v4.6M35.6 361.5h-9M35.6 350.06h-4.4M35.6 343.37h-4.4M35.6 338.62h-4.4M35.6 334.94h-4.4M35.6 331.93h-4.4M35.6 329.39h-4.4M35.6 327.18h-4.4M35.6 325.24h-4.4M35.6 323.5h-9M35.6 312.06h-4.4M35.6 305.37h-4.4M35.6 300.62h-4.4M35.6 296.94h-4.4M35.6 293.93h-4.4M35.6 291.39h-4.4M35.6 289.18h-4.4M35.6 287.24h-4.4M35.6 285.5h-9M35.6 274.27h-4.4M35.6 267.7h-4.4M35.6 263.04h-4.4M35.6 259.43h-4.4M35.6 256.47h-4.4M35.6 253.98h-4.4M35.6 251.81h-4.4M35.6 249.91h-4.4M35.6 248.2h-9M35.6 236.97h-4.4M35.6 374.3h-7.5M35.6 375.4h-7.5M35.6 376.5h-9M35.6 377.6h-7.5M35.6 378.7h-7.5M35.6 389.5h-5.5M35.6 398.6h-7M35.6 363.4h-3.4M35.6 365.3h-3.4M35.6 367.2h-3.4M35.6 369.1h-3.4M35.6 371h-3.4M35.6 372.9h-3.4" stroke="#2b2b2b" stroke-width="1.1" fill="none"/>
<text x="55.2" y="417.3" font-family="Liberation Sans, sans-serif" font-size="8.2" text-anchor="middle" fill="#222" >0</text>
<text x="72.4" y="417.3" font-family="Liberation Sans, sans-serif" font-size="9.2" fill="#222" text-anchor="middle">10<tspan dy="-5" font-size="8.2">2</tspan></text>
<text x="116.4" y="417.3" font-family="Liberation Sans, sans-serif" font-size="9.2" fill="#222" text-anchor="middle">10<tspan dy="-5" font-size="8.2">3</tspan></text>
<text x="155.9" y="417.3" font-family="Liberation Sans, sans-serif" font-size="9.2" fill="#222" text-anchor="middle">10<tspan dy="-5" font-size="8.2">4</tspan></text>
<text x="195.3" y="417.3" font-family="Liberation Sans, sans-serif" font-size="9.2" fill="#222" text-anchor="middle">10<tspan dy="-5" font-size="8.2">5</tspan></text>
<text x="26.3" y="423.4" font-family="Liberation Sans, sans-serif" font-size="8" text-anchor="start" fill="#111" >-131</text>
<text x="59.6" y="426.9" font-family="Liberation Sans, sans-serif" font-size="12" text-anchor="start" fill="#222" textLength="129.2" lengthAdjust="spacingAndGlyphs" >AnnV Alexa Fluor 488-A</text>
<text transform="translate(26.3 248.4) rotate(-90)" font-family="Liberation Sans, sans-serif" font-size="9.2" fill="#222" text-anchor="middle">10<tspan dy="-5" font-size="8.2">5</tspan></text>
<text transform="translate(26.3 286.7) rotate(-90)" font-family="Liberation Sans, sans-serif" font-size="9.2" fill="#222" text-anchor="middle">10<tspan dy="-5" font-size="8.2">4</tspan></text>
<text transform="translate(26.3 324.7) rotate(-90)" font-family="Liberation Sans, sans-serif" font-size="9.2" fill="#222" text-anchor="middle">10<tspan dy="-5" font-size="8.2">3</tspan></text>
<text transform="translate(26.3 361.7) rotate(-90)" font-family="Liberation Sans, sans-serif" font-size="9.2" fill="#222" text-anchor="middle">10<tspan dy="-5" font-size="8.2">2</tspan></text>
<text x="0" y="0" font-family="Liberation Sans, sans-serif" font-size="8.2" text-anchor="middle" fill="#222" transform="translate(26.3 378.7) rotate(-90)" >0</text>
<text x="0" y="0" font-family="Liberation Sans, sans-serif" font-size="8" text-anchor="middle" fill="#222" transform="translate(16.6 397.5) rotate(-90)" >-170</text>
<text x="0" y="0" font-family="Liberation Sans, sans-serif" font-size="12.4" text-anchor="middle" fill="#222" transform="translate(12.3 312.5) rotate(-90)" textLength="80.8" lengthAdjust="spacingAndGlyphs" >7AAD PerCP-A</text>
<text x="45.9" y="267.4" font-family="Liberation Serif, serif" font-size="10.8" text-anchor="start" fill="#222" >Q1</text>
<text x="128.9" y="278.8" font-family="Liberation Sans, sans-serif" font-size="10.4" text-anchor="start" fill="#222" >Q2</text>
<text x="44.9" y="362" font-family="Liberation Serif, serif" font-size="10.8" text-anchor="start" fill="#222" >Q3</text>
<text x="174" y="362" font-family="Liberation Serif, serif" font-size="10.8" text-anchor="start" fill="#222" >Q4</text>
<path d="M284 321.5h2M287 321.5h19M281 322.5h1M283 322.5h1M285 322.5h21M279 323.5h1M282 323.5h2M285 323.5h21M277 324.5h2M282 324.5h24M275 325.5h1M277 325.5h1M280 325.5h26M278 326.5h3M282 326.5h24M273 327.5h1M277 327.5h1M279 327.5h27M276 328.5h30M270 329.5h1M273 329.5h1M276 329.5h30M271 330.5h1M274 330.5h32M269 331.5h2M272 331.5h2M275 331.5h31M272 332.5h34M270 333.5h2M274 333.5h32M271 334.5h35M270 335.5h36M268 336.5h1M270 336.5h1M272 336.5h34M267 337.5h1M270 337.5h36M264 338.5h1M267 338.5h39M267 339.5h3M271 339.5h35M269 340.5h37M266 341.5h40M264 342.5h1M267 342.5h39M266 343.5h40M264 344.5h42M263 345.5h2M266 345.5h40M261 346.5h1M265 346.5h41M262 347.5h2M265 347.5h41M263 348.5h2M266 348.5h40M263 349.5h43M262 350.5h1M264 350.5h42M260 351.5h1M262 351.5h2M265 351.5h41M262 352.5h44M259 353.5h6M266 353.5h40M261 354.5h45M263 355.5h43M261 356.5h1M263 356.5h1M265 356.5h41M258 357.5h2M261 357.5h1M263 357.5h43M262 358.5h44M261 359.5h45M261 360.5h45M259 361.5h1M261 361.5h45M258 362.5h2M262 362.5h44M257 363.5h1M260 363.5h2M263 363.5h43M258 364.5h48M259 365.5h2M262 365.5h44M258 366.5h1M261 366.5h45M261 367.5h45M258 368.5h1M261 368.5h1M263 368.5h43M259 369.5h1M262 369.5h44M258 370.5h1M260 370.5h1M262 370.5h44M261 371.5h1M263 371.5h43M257 372.5h1M262 372.5h44M258 373.5h1M261 373.5h45M261 374.5h1M263 374.5h43M260 375.5h46M261 376.5h1M263 376.5h43M262 377.5h44M263 378.5h1M266 378.5h40M262 379.5h1M264 379.5h42M263 380.5h3M267 380.5h39M265 381.5h41M265 382.5h41M263 383.5h43M264 384.5h1M266 384.5h1M268 384.5h38M265 385.5h1M268 385.5h37M267 386.5h1M271 386.5h2M274 386.5h32M271 387.5h2M274 387.5h4M279 387.5h20M300 387.5h3M304 387.5h2M271 388.5h1M276 388.5h1M278 388.5h19M298 388.5h4M303 388.5h1M305 388.5h1M272 389.5h2M275 389.5h5M281 389.5h2M284 389.5h1M286 389.5h1M288 389.5h1M291 389.5h8M300 389.5h1M302 389.5h1M304 389.5h1M272 390.5h3M276 390.5h1M278 390.5h1M281 390.5h3M287 390.5h1M290 390.5h3M294 390.5h3M299 390.5h1M301 390.5h1M305 390.5h1M275 391.5h1M277 391.5h4M282 391.5h1M284 391.5h2M287 391.5h2M291 391.5h1M297 391.5h1M280 392.5h1M283 392.5h1M286 392.5h1M289 392.5h1M292 392.5h1M296 392.5h1M298 392.5h1M283 393.5h2M290 393.5h1M297 393.5h1" stroke="#6a2070" stroke-width="1" fill="none" filter="url(#sb)"/>
<path d="M306 321.5h19M326 321.5h14M342 321.5h3M346 321.5h3M350 321.5h4M355 321.5h4M360 321.5h8M369 321.5h3M373 321.5h1M375 321.5h11M388 321.5h2M391 321.5h1M393 321.5h3M399 321.5h3M306 322.5h25M332 322.5h4M337 322.5h6M345 322.5h10M356 322.5h5M363 322.5h5M372 322.5h2M375 322.5h3M379 322.5h3M383 322.5h2M386 322.5h6M394 322.5h3M399 322.5h2M306 323.5h15M322 323.5h2M325 323.5h3M329 323.5h7M338 323.5h1M340 323.5h3M344 323.5h7M352 323.5h8M361 323.5h1M363 323.5h2M366 323.5h2M369 323.5h7M378 323.5h1M381 323.5h1M383 323.5h4M389 323.5h1M391 323.5h4M399 323.5h1M306 324.5h22M329 324.5h2M332 324.5h7M340 324.5h11M353 324.5h2M357 324.5h5M363 324.5h4M368 324.5h5M375 324.5h16M392 324.5h3M397 324.5h1M400 324.5h2M306 325.5h4M311 325.5h14M326 325.5h12M339 325.5h19M359 325.5h16M378 325.5h1M381 325.5h10M392 325.5h3M397 325.5h1M400 325.5h1M306 326.5h28M336 326.5h5M343 326.5h9M353 326.5h1M355 326.5h27M383 326.5h7M391 326.5h1M393 326.5h4M400 326.5h1M306 327.5h12M319 327.5h14M334 327.5h2M337 327.5h14M353 327.5h1M356 327.5h2M359 327.5h8M369 327.5h2M372 327.5h5M378 327.5h6M385 327.5h12M399 327.5h2M402 327.5h1M306 328.5h37M344 328.5h6M351 328.5h14M366 328.5h20M387 328.5h2M390 328.5h1M392 328.5h3M396 328.5h3M306 329.5h24M331 329.5h2M334 329.5h3M338 329.5h1M340 329.5h5M346 329.5h12M359 329.5h5M366 329.5h5M372 329.5h8M382 329.5h8M391 329.5h2M394 329.5h3M400 329.5h1M306 330.5h40M347 330.5h12M360 330.5h5M368 330.5h10M379 330.5h1M381 330.5h8M390 330.5h4M396 330.5h2M401 330.5h2M306 331.5h8M315 331.5h33M349 331.5h3M354 331.5h9M364 331.5h14M379 331.5h11M391 331.5h1M393 331.5h3M398 331.5h1M404 331.5h1M306 332.5h32M339 332.5h5M345 332.5h5M351 332.5h3M355 332.5h9M365 332.5h1M367 332.5h1M369 332.5h4M374 332.5h1M376 332.5h1M378 332.5h13M392 332.5h3M396 332.5h2M400 332.5h1M306 333.5h36M343 333.5h2M346 333.5h2M349 333.5h3M353 333.5h6M360 333.5h6M367 333.5h10M379 333.5h3M383 333.5h7M391 333.5h5M400 333.5h1M306 334.5h20M328 334.5h6M335 334.5h5M341 334.5h23M365 334.5h6M372 334.5h11M384 334.5h3M388 334.5h6M397 334.5h1M401 334.5h1M306 335.5h1M308 335.5h10M319 335.5h4M324 335.5h6M331 335.5h63M395 335.5h1M397 335.5h3M401 335.5h1M306 336.5h14M321 336.5h3M325 336.5h45M371 336.5h2M374 336.5h12M387 336.5h7M399 336.5h1M306 337.5h25M332 337.5h1M334 337.5h1M336 337.5h28M365 337.5h1M367 337.5h18M386 337.5h9M306 338.5h28M335 338.5h4M340 338.5h8M349 338.5h46M396 338.5h1M306 339.5h83M390 339.5h4M395 339.5h4M401 339.5h2M306 340.5h33M340 340.5h15M356 340.5h30M387 340.5h2M390 340.5h1M393 340.5h1M395 340.5h2M398 340.5h1M306 341.5h47M354 341.5h22M377 341.5h7M385 341.5h7M393 341.5h3M398 341.5h1M400 341.5h1M306 342.5h92M400 342.5h1M306 343.5h77M384 343.5h2M387 343.5h6M395 343.5h3M400 343.5h2M306 344.5h12M319 344.5h23M343 344.5h1M345 344.5h35M381 344.5h13M397 344.5h1M306 345.5h78M385 345.5h1M387 345.5h1M389 345.5h3M393 345.5h6M400 345.5h2M306 346.5h93M306 347.5h84M391 347.5h1M394 347.5h2M306 348.5h30M337 348.5h44M383 348.5h7M393 348.5h1M395 348.5h1M397 348.5h1M306 349.5h8M315 349.5h1M317 349.5h27M345 349.5h52M398 349.5h1M306 350.5h63M370 350.5h10M382 350.5h9M393 350.5h3M397 350.5h1M307 351.5h21M329 351.5h64M394 351.5h5M306 352.5h81M388 352.5h7M306 353.5h66M374 353.5h17M392 353.5h1M394 353.5h1M306 354.5h68M375 354.5h19M395 354.5h1M398 354.5h1M306 355.5h66M373 355.5h20M401 355.5h1M306 356.5h84M391 356.5h2M394 356.5h1M306 357.5h2M309 357.5h56M366 357.5h25M394 357.5h2M306 358.5h18M325 358.5h63M389 358.5h2M392 358.5h1M306 359.5h37M344 359.5h4M349 359.5h41M391 359.5h4M306 360.5h9M316 360.5h21M338 360.5h37M376 360.5h5M382 360.5h7M391 360.5h1M306 361.5h80M387 361.5h3M392 361.5h1M306 362.5h12M319 362.5h34M354 362.5h28M383 362.5h7M391 362.5h2M306 363.5h83M306 364.5h26M333 364.5h2M336 364.5h25M362 364.5h18M381 364.5h2M384 364.5h1M386 364.5h1M306 365.5h39M346 365.5h16M363 365.5h5M369 365.5h17M393 365.5h1M306 366.5h77M384 366.5h1M389 366.5h1M306 367.5h18M325 367.5h9M335 367.5h52M388 367.5h1M306 368.5h78M386 368.5h1M306 369.5h74M381 369.5h1M383 369.5h2M387 369.5h1M306 370.5h54M361 370.5h22M306 371.5h34M341 371.5h1M343 371.5h36M380 371.5h2M383 371.5h2M387 371.5h1M306 372.5h38M345 372.5h2M348 372.5h28M380 372.5h2M383 372.5h1M387 372.5h1M306 373.5h13M320 373.5h26M347 373.5h31M380 373.5h3M386 373.5h1M306 374.5h69M376 374.5h1M378 374.5h3M385 374.5h1M306 375.5h16M323 375.5h24M348 375.5h24M374 375.5h1M378 375.5h1M380 375.5h1M382 375.5h2M306 376.5h10M317 376.5h5M323 376.5h42M366 376.5h1M368 376.5h2M371 376.5h4M376 376.5h1M306 377.5h32M339 377.5h4M344 377.5h25M370 377.5h2M374 377.5h2M381 377.5h1M306 378.5h51M358 378.5h10M369 378.5h2M372 378.5h5M379 378.5h1M306 379.5h41M348 379.5h12M361 379.5h1M363 379.5h2M366 379.5h4M373 379.5h2M306 380.5h26M333 380.5h12M346 380.5h8M355 380.5h11M368 380.5h2M371 380.5h1M306 381.5h30M337 381.5h6M344 381.5h4M349 381.5h3M354 381.5h8M364 381.5h3M368 381.5h1M370 381.5h3M306 382.5h1M309 382.5h9M319 382.5h17M337 382.5h9M347 382.5h3M351 382.5h3M356 382.5h2M359 382.5h1M363 382.5h1M370 382.5h1M375 382.5h1M306 383.5h11M318 383.5h18M337 383.5h3M341 383.5h7M349 383.5h3M354 383.5h1M356 383.5h1M360 383.5h1M362 383.5h1M367 383.5h2M306 384.5h3M312 384.5h10M323 384.5h3M327 384.5h3M331 384.5h2M335 384.5h3M339 384.5h3M343 384.5h2M346 384.5h4M351 384.5h2M358 384.5h1M361 384.5h1M365 384.5h1M306 385.5h1M308 385.5h2M312 385.5h1M315 385.5h1M317 385.5h2M321 385.5h3M325 385.5h1M327 385.5h1M330 385.5h3M337 385.5h1M343 385.5h1M345 385.5h3M350 385.5h1M353 385.5h1M355 385.5h2M358 385.5h2M364 385.5h2M306 386.5h2M309 386.5h2M315 386.5h4M322 386.5h1M324 386.5h1M326 386.5h2M329 386.5h1M332 386.5h4M337 386.5h1M341 386.5h1M347 386.5h1M355 386.5h2M358 386.5h1M307 387.5h1M311 387.5h4M317 387.5h1M320 387.5h2M330 387.5h1M334 387.5h1M336 387.5h1M338 387.5h1M340 387.5h2M343 387.5h2M346 387.5h1M350 387.5h1M354 387.5h1M358 387.5h1M306 388.5h3M310 388.5h1M312 388.5h1M321 388.5h2M325 388.5h1M328 388.5h2M332 388.5h2M335 388.5h2M339 388.5h1M351 388.5h1M354 388.5h1M313 389.5h1M321 389.5h1M329 389.5h1M350 389.5h2M306 390.5h1M308 390.5h1M313 390.5h1M320 390.5h1M325 390.5h1M329 390.5h1M340 390.5h1M308 391.5h1M317 391.5h1M320 391.5h1M323 391.5h1M336 391.5h1M307 392.5h1" stroke="#484ca2" stroke-width="1" fill="none" filter="url(#sb)"/>
<path d="M379 283.5h1M360 285.5h1M382 285.5h1M350 286.5h1M374 287.5h1M382 287.5h2M314 288.5h1M350 289.5h1M389 289.5h1M401 290.5h1M384 291.5h1M385 292.5h1M387 292.5h1M396 292.5h1M404 292.5h1M334 293.5h1M377 293.5h1M391 293.5h1M395 293.5h1M400 293.5h1M404 293.5h1M389 294.5h1M393 294.5h1M397 294.5h1M333 295.5h1M337 295.5h1M349 295.5h1M369 295.5h1M381 295.5h1M383 295.5h1M386 295.5h1M398 295.5h3M403 295.5h1M329 296.5h1M340 296.5h1M383 296.5h1M388 296.5h1M394 296.5h1M396 296.5h2M423 296.5h1M352 297.5h1M360 297.5h1M376 297.5h1M378 297.5h1M387 297.5h4M392 297.5h2M395 297.5h1M397 297.5h1M311 298.5h1M325 298.5h1M351 298.5h1M356 298.5h1M368 298.5h1M374 298.5h1M378 298.5h1M386 298.5h1M388 298.5h2M391 298.5h1M393 298.5h1M395 298.5h6M402 298.5h1M405 298.5h1M411 298.5h1M351 299.5h1M383 299.5h5M390 299.5h1M392 299.5h2M395 299.5h1M397 299.5h3M402 299.5h3M409 299.5h1M411 299.5h1M321 300.5h1M333 300.5h1M358 300.5h1M369 300.5h1M376 300.5h1M385 300.5h1M389 300.5h13M403 300.5h1M406 300.5h1M408 300.5h1M314 301.5h1M323 301.5h1M338 301.5h1M354 301.5h1M368 301.5h1M374 301.5h1M377 301.5h1M381 301.5h2M384 301.5h2M388 301.5h15M404 301.5h1M348 302.5h1M352 302.5h1M357 302.5h1M360 302.5h1M375 302.5h2M378 302.5h4M383 302.5h2M386 302.5h14M401 302.5h2M415 302.5h1M310 303.5h1M328 303.5h1M338 303.5h1M344 303.5h1M350 303.5h1M352 303.5h1M363 303.5h1M366 303.5h1M372 303.5h3M376 303.5h1M380 303.5h4M385 303.5h18M405 303.5h1M324 304.5h1M339 304.5h1M345 304.5h1M353 304.5h1M357 304.5h1M359 304.5h1M367 304.5h1M370 304.5h4M376 304.5h4M381 304.5h22M404 304.5h1M308 305.5h1M323 305.5h1M332 305.5h1M355 305.5h2M370 305.5h7M378 305.5h2M381 305.5h21M405 305.5h1M414 305.5h1M317 306.5h1M321 306.5h1M333 306.5h1M339 306.5h1M349 306.5h1M355 306.5h1M358 306.5h1M365 306.5h1M372 306.5h31M404 306.5h1M406 306.5h1M408 306.5h1M326 307.5h1M341 307.5h1M346 307.5h1M353 307.5h3M359 307.5h1M361 307.5h1M367 307.5h2M370 307.5h34M407 307.5h1M412 307.5h1M416 307.5h1M316 308.5h1M321 308.5h1M330 308.5h1M333 308.5h1M335 308.5h1M342 308.5h1M344 308.5h1M359 308.5h1M361 308.5h1M366 308.5h3M370 308.5h32M403 308.5h1M408 308.5h3M426 308.5h1M308 309.5h2M311 309.5h1M331 309.5h1M342 309.5h1M353 309.5h3M360 309.5h2M364 309.5h1M367 309.5h2M370 309.5h34M405 309.5h1M410 309.5h1M425 309.5h1M321 310.5h1M329 310.5h1M334 310.5h1M338 310.5h2M342 310.5h2M345 310.5h1M356 310.5h1M358 310.5h1M360 310.5h1M364 310.5h42M409 310.5h1M311 311.5h2M324 311.5h1M327 311.5h1M331 311.5h1M341 311.5h1M343 311.5h1M350 311.5h1M361 311.5h42M405 311.5h3M410 311.5h2M418 311.5h1M315 312.5h3M325 312.5h1M329 312.5h4M334 312.5h1M336 312.5h1M345 312.5h2M358 312.5h2M361 312.5h40M402 312.5h2M405 312.5h1M407 312.5h2M410 312.5h2M413 312.5h1M309 313.5h1M315 313.5h1M319 313.5h1M330 313.5h1M332 313.5h1M338 313.5h1M341 313.5h4M346 313.5h2M352 313.5h1M356 313.5h4M362 313.5h39M402 313.5h1M405 313.5h3M409 313.5h1M412 313.5h4M306 314.5h1M308 314.5h1M316 314.5h1M322 314.5h1M324 314.5h2M328 314.5h1M331 314.5h2M337 314.5h2M340 314.5h1M343 314.5h1M345 314.5h3M349 314.5h2M352 314.5h1M355 314.5h4M361 314.5h41M403 314.5h4M411 314.5h1M413 314.5h1M306 315.5h1M308 315.5h1M312 315.5h1M317 315.5h1M319 315.5h1M325 315.5h3M329 315.5h2M332 315.5h2M336 315.5h1M341 315.5h3M346 315.5h1M351 315.5h1M354 315.5h2M357 315.5h49M407 315.5h1M411 315.5h2M414 315.5h1M417 315.5h1M310 316.5h2M316 316.5h1M319 316.5h3M327 316.5h1M330 316.5h1M334 316.5h1M336 316.5h2M340 316.5h1M342 316.5h1M344 316.5h1M347 316.5h1M349 316.5h1M356 316.5h1M358 316.5h54M413 316.5h1M415 316.5h1M306 317.5h2M309 317.5h1M313 317.5h1M315 317.5h1M318 317.5h1M322 317.5h2M329 317.5h2M332 317.5h2M336 317.5h4M341 317.5h3M345 317.5h7M353 317.5h60M418 317.5h2M310 318.5h1M313 318.5h3M320 318.5h4M326 318.5h1M328 318.5h4M333 318.5h1M335 318.5h2M341 318.5h3M346 318.5h5M352 318.5h57M411 318.5h2M306 319.5h1M309 319.5h3M315 319.5h8M325 319.5h3M329 319.5h1M331 319.5h3M335 319.5h7M343 319.5h66M410 319.5h4M307 320.5h7M315 320.5h7M323 320.5h1M326 320.5h2M329 320.5h2M332 320.5h81" stroke="#2c782f" stroke-width="1" fill="none" filter="url(#sb)"/>
<rect x="286.2" y="306" width="1.2" height="1.2" fill="#f06060"/>
<rect x="298" y="318" width="1.2" height="1.2" fill="#f06060"/>
<rect x="303" y="316.5" width="1.2" height="1.2" fill="#f06060"/>
<rect x="295" y="319.2" width="1.2" height="1.2" fill="#f06060"/>
<rect x="304" y="314" width="1.2" height="1.2" fill="#f06060"/>
<rect x="301" y="318.8" width="1.2" height="1.2" fill="#f06060"/>
<rect x="255.6" y="232.9" width="175.3" height="163.7" fill="none" stroke="#3a3a3a" stroke-width="1.1"/>
<line x1="306.4" y1="232.9" x2="306.4" y2="396.6" stroke="#2a2a2a" stroke-width="1.1" />
<line x1="255.6" y1="320.9" x2="430.9" y2="320.9" stroke="#2a2a2a" stroke-width="1.1" />
<line x1="246.4" y1="396.6" x2="255.6" y2="396.6" stroke="#3a3a3a" stroke-width="1.1" />
<line x1="255.6" y1="396.6" x2="255.6" y2="406" stroke="#3a3a3a" stroke-width="1.1" />
<text x="315" y="226.9" font-family="Liberation Sans, sans-serif" font-weight="bold" stroke="#111" stroke-width="0.28" font-size="12.4" text-anchor="start" fill="#111" textLength="58.5" lengthAdjust="spacingAndGlyphs" >KD + DOX</text>
<line x1="315.5" y1="232" x2="318.5" y2="232" stroke="#222" stroke-width="1" />
<path d="M258.9 396.6v5.6M260.56 396.6v5.6M262.22 396.6v5.6M263.88 396.6v5.6M265.54 396.6v5.6M267.2 396.6v5.6M268.86 396.6v5.6M270.52 396.6v5.6M272.18 396.6v9M273.84 396.6v9M275.5 396.6v9M277.16 396.6v5.6M278.82 396.6v5.6M280.48 396.6v5.6M282.14 396.6v5.6M283.8 396.6v5.6M285.46 396.6v5.6M287.12 396.6v5.6M288.78 396.6v5.6M290.44 396.6v5.6M292.5 396.6v8M305.05 396.6v4.6M312.4 396.6v4.6M317.61 396.6v4.6M321.65 396.6v4.6M324.95 396.6v4.6M327.74 396.6v4.6M330.16 396.6v4.6M332.29 396.6v4.6M334.2 396.6v8M346.84 396.6v4.6M354.24 396.6v4.6M359.49 396.6v4.6M363.56 396.6v4.6M366.88 396.6v4.6M369.69 396.6v4.6M372.13 396.6v4.6M374.28 396.6v4.6M376.2 396.6v8M388.06 396.6v4.6M395 396.6v4.6M399.92 396.6v4.6M403.74 396.6v4.6M406.86 396.6v4.6M409.5 396.6v4.6M411.78 396.6v4.6M413.8 396.6v4.6M415.6 396.6v8M427.46 396.6v4.6M255.6 360.3h-9M255.6 348.86h-4.4M255.6 342.17h-4.4M255.6 337.42h-4.4M255.6 333.74h-4.4M255.6 330.73h-4.4M255.6 328.19h-4.4M255.6 325.98h-4.4M255.6 324.04h-4.4M255.6 322.3h-9M255.6 310.86h-4.4M255.6 304.17h-4.4M255.6 299.42h-4.4M255.6 295.74h-4.4M255.6 292.73h-4.4M255.6 290.19h-4.4M255.6 287.98h-4.4M255.6 286.04h-4.4M255.6 284.3h-9M255.6 273.07h-4.4M255.6 266.5h-4.4M255.6 261.84h-4.4M255.6 258.23h-4.4M255.6 255.27h-4.4M255.6 252.78h-4.4M255.6 250.61h-4.4M255.6 248.71h-4.4M255.6 247h-9M255.6 235.77h-4.4M255.6 372.8h-7.5M255.6 373.9h-7.5M255.6 375h-9M255.6 376.1h-7.5M255.6 377.2h-7.5M255.6 388h-5.5M255.6 396.6h-7M255.6 362.2h-3.4M255.6 364.1h-3.4M255.6 366h-3.4M255.6 367.9h-3.4M255.6 369.8h-3.4M255.6 371.7h-3.4" stroke="#2b2b2b" stroke-width="1.1" fill="none"/>
<text x="275.2" y="415.3" font-family="Liberation Sans, sans-serif" font-size="8.2" text-anchor="middle" fill="#222" >0</text>
<text x="292.2" y="415.3" font-family="Liberation Sans, sans-serif" font-size="9.2" fill="#222" text-anchor="middle">10<tspan dy="-5" font-size="8.2">2</tspan></text>
<text x="336.2" y="415.3" font-family="Liberation Sans, sans-serif" font-size="9.2" fill="#222" text-anchor="middle">10<tspan dy="-5" font-size="8.2">3</tspan></text>
<text x="375.7" y="415.3" font-family="Liberation Sans, sans-serif" font-size="9.2" fill="#222" text-anchor="middle">10<tspan dy="-5" font-size="8.2">4</tspan></text>
<text x="415.1" y="415.3" font-family="Liberation Sans, sans-serif" font-size="9.2" fill="#222" text-anchor="middle">10<tspan dy="-5" font-size="8.2">5</tspan></text>
<text x="246.3" y="421.6" font-family="Liberation Sans, sans-serif" font-size="8" text-anchor="start" fill="#111" >-132</text>
<text x="279.2" y="425.1" font-family="Liberation Sans, sans-serif" font-size="12" text-anchor="start" fill="#222" textLength="129.2" lengthAdjust="spacingAndGlyphs" >AnnV Alexa Fluor 488-A</text>
<text transform="translate(246.3 247.2) rotate(-90)" font-family="Liberation Sans, sans-serif" font-size="9.2" fill="#222" text-anchor="middle">10<tspan dy="-5" font-size="8.2">5</tspan></text>
<text transform="translate(246.3 285.5) rotate(-90)" font-family="Liberation Sans, sans-serif" font-size="9.2" fill="#222" text-anchor="middle">10<tspan dy="-5" font-size="8.2">4</tspan></text>
<text transform="translate(246.3 323.5) rotate(-90)" font-family="Liberation Sans, sans-serif" font-size="9.2" fill="#222" text-anchor="middle">10<tspan dy="-5" font-size="8.2">3</tspan></text>
<text transform="translate(246.3 360.5) rotate(-90)" font-family="Liberation Sans, sans-serif" font-size="9.2" fill="#222" text-anchor="middle">10<tspan dy="-5" font-size="8.2">2</tspan></text>
<text x="0" y="0" font-family="Liberation Sans, sans-serif" font-size="8.2" text-anchor="middle" fill="#222" transform="translate(246.3 377.2) rotate(-90)" >0</text>
<text x="0" y="0" font-family="Liberation Sans, sans-serif" font-size="8" text-anchor="middle" fill="#222" transform="translate(236.6 397) rotate(-90)" >-147</text>
<text x="0" y="0" font-family="Liberation Sans, sans-serif" font-size="12.4" text-anchor="middle" fill="#222" transform="translate(232.3 311.3) rotate(-90)" textLength="80.8" lengthAdjust="spacingAndGlyphs" >7AAD PerCP-A</text>
<text x="265.5" y="266.6" font-family="Liberation Serif, serif" font-size="10.8" text-anchor="start" fill="#222" >Q1</text>
<text x="348" y="278" font-family="Liberation Sans, sans-serif" font-size="10.4" text-anchor="start" fill="#222" >Q2</text>
<text x="263.9" y="360.6" font-family="Liberation Serif, serif" font-size="10.8" text-anchor="start" fill="#222" >Q3</text>
<text x="392.2" y="360.6" font-family="Liberation Serif, serif" font-size="10.8" text-anchor="start" fill="#222" >Q4</text>
<text x="0.6" y="222.4" font-family="Liberation Sans, sans-serif" font-weight="bold" font-size="17.2" text-anchor="start" fill="#111" >C.</text>
<text x="448.2" y="227.5" font-family="Liberation Sans, sans-serif" font-weight="bold" font-size="17.2" text-anchor="start" fill="#111" >D.</text>
<path d="M481.8 238.2V394.3H637.2" stroke="#111" stroke-width="1.1" fill="none"/>
<line x1="475.8" y1="394.3" x2="481.8" y2="394.3" stroke="#111" stroke-width="1.1" />
<text x="473.4" y="398.4" font-family="Liberation Sans, sans-serif" font-weight="bold" stroke="#111" stroke-width="0.28" font-size="11.7" text-anchor="end" fill="#111" >0</text>
<line x1="475.8" y1="365.92" x2="481.8" y2="365.92" stroke="#111" stroke-width="1.1" />
<text x="473.4" y="370.02" font-family="Liberation Sans, sans-serif" font-weight="bold" stroke="#111" stroke-width="0.28" font-size="11.7" text-anchor="end" fill="#111" >20</text>
<line x1="475.8" y1="337.54" x2="481.8" y2="337.54" stroke="#111" stroke-width="1.1" />
<text x="473.4" y="341.64" font-family="Liberation Sans, sans-serif" font-weight="bold" stroke="#111" stroke-width="0.28" font-size="11.7" text-anchor="end" fill="#111" >40</text>
<line x1="475.8" y1="309.16" x2="481.8" y2="309.16" stroke="#111" stroke-width="1.1" />
<text x="473.4" y="313.26" font-family="Liberation Sans, sans-serif" font-weight="bold" stroke="#111" stroke-width="0.28" font-size="11.7" text-anchor="end" fill="#111" >60</text>
<line x1="475.8" y1="280.78" x2="481.8" y2="280.78" stroke="#111" stroke-width="1.1" />
<text x="473.4" y="284.88" font-family="Liberation Sans, sans-serif" font-weight="bold" stroke="#111" stroke-width="0.28" font-size="11.7" text-anchor="end" fill="#111" >80</text>
<line x1="475.8" y1="252.4" x2="481.8" y2="252.4" stroke="#111" stroke-width="1.1" />
<text x="473.4" y="256.5" font-family="Liberation Sans, sans-serif" font-weight="bold" stroke="#111" stroke-width="0.28" font-size="11.7" text-anchor="end" fill="#111" >100</text>
<text x="0" y="0" font-family="Liberation Sans, sans-serif" font-weight="bold" stroke="#111" stroke-width="0.28" font-size="13.7" text-anchor="middle" fill="#111" transform="translate(450.8 313) rotate(-90)" >Cell survival (%)</text>
<line x1="497.1" y1="394.3" x2="497.1" y2="399.6" stroke="#111" stroke-width="1.1" />
<line x1="495.3" y1="409.4" x2="498.9" y2="409.4" stroke="#111" stroke-width="1.5" />
<line x1="521.6" y1="394.3" x2="521.6" y2="399.6" stroke="#111" stroke-width="1.1" />
<line x1="519.8" y1="409.4" x2="523.4" y2="409.4" stroke="#111" stroke-width="1.5" />
<line x1="545.8" y1="394.3" x2="545.8" y2="399.6" stroke="#111" stroke-width="1.1" />
<path d="M542.8 409h6M545.8 406v6" stroke="#111" stroke-width="1.5" fill="none"/>
<line x1="570" y1="394.3" x2="570" y2="399.6" stroke="#111" stroke-width="1.1" />
<path d="M567 409h6M570 406v6" stroke="#111" stroke-width="1.5" fill="none"/>
<line x1="594.3" y1="394.3" x2="594.3" y2="399.6" stroke="#111" stroke-width="1.1" />
<path d="M591.3 409h6M594.3 406v6" stroke="#111" stroke-width="1.5" fill="none"/>
<line x1="618.5" y1="394.3" x2="618.5" y2="399.6" stroke="#111" stroke-width="1.1" />
<path d="M615.5 409h6M618.5 406v6" stroke="#111" stroke-width="1.5" fill="none"/>
<text x="639" y="414.8" font-family="Liberation Sans, sans-serif" font-weight="bold" stroke="#111" stroke-width="0.28" font-size="12" text-anchor="start" fill="#111" >DOX</text>
<text x="557.3" y="427.4" font-family="Liberation Sans, sans-serif" font-weight="bold" stroke="#111" stroke-width="0.28" font-size="12" text-anchor="middle" fill="#111" >24h</text>
<text x="605.8" y="427.4" font-family="Liberation Sans, sans-serif" font-weight="bold" stroke="#111" stroke-width="0.28" font-size="12" text-anchor="middle" fill="#111" >48h</text>
<circle cx="645.4" cy="258" r="2.9" fill="#000"/>
<text x="652.6" y="261.2" font-family="Liberation Sans, sans-serif" font-weight="bold" stroke="#111" stroke-width="0.28" font-size="12" text-anchor="start" fill="#111" >Mock</text>
<circle cx="645.4" cy="274.2" r="2.9" fill="#fff" stroke="#000" stroke-width="1.3"/>
<text x="652.6" y="277.4" font-family="Liberation Sans, sans-serif" font-weight="bold" stroke="#111" stroke-width="0.28" font-size="12" text-anchor="start" fill="#111" >KD</text>
<line x1="595.3" y1="251" x2="622.6" y2="251" stroke="#777" stroke-width="1.5" />
<text x="608.95" y="251.2" font-family="Liberation Sans, sans-serif" font-size="15.5" text-anchor="middle" fill="#222" >**</text>
<circle cx="492.6" cy="252.4" r="2.9" fill="#000"/>
<circle cx="495.2" cy="252.4" r="2.9" fill="#000"/>
<circle cx="497.75" cy="252.4" r="2.9" fill="#000"/>
<circle cx="500.3" cy="252.4" r="2.9" fill="#000"/>
<circle cx="502.9" cy="252.4" r="2.9" fill="#000"/>
<circle cx="517" cy="254.1" r="2.95" fill="#fff" stroke="#000" stroke-width="1.35"/>
<circle cx="520.6" cy="247.7" r="2.95" fill="#fff" stroke="#000" stroke-width="1.35"/>
<circle cx="522.9" cy="253.1" r="2.95" fill="#fff" stroke="#000" stroke-width="1.35"/>
<circle cx="527.5" cy="251.8" r="2.95" fill="#fff" stroke="#000" stroke-width="1.35"/>
<path d="M545.8 255.5V260M543.3 255.5h5M543.3 260h5" stroke="#222" stroke-width="1" fill="none"/>
<line x1="538.8" y1="257.5" x2="551.7" y2="257.5" stroke="#111" stroke-width="1.3" />
<circle cx="541.9" cy="254.9" r="2.9" fill="#000"/>
<circle cx="546.5" cy="254.9" r="2.9" fill="#000"/>
<circle cx="541.9" cy="263.4" r="2.9" fill="#000"/>
<circle cx="552.2" cy="258.3" r="2.9" fill="#000"/>
<circle cx="565.9" cy="257" r="2.95" fill="#fff" stroke="#000" stroke-width="1.35"/>
<circle cx="570.2" cy="252.4" r="2.95" fill="#fff" stroke="#000" stroke-width="1.35"/>
<circle cx="572.3" cy="256.2" r="2.95" fill="#fff" stroke="#000" stroke-width="1.35"/>
<circle cx="576.6" cy="255.7" r="2.95" fill="#fff" stroke="#000" stroke-width="1.35"/>
<path d="M596.2 262.3V278.5M592.4 262.3h7.6M592.4 278.5h7.6" stroke="#222" stroke-width="1" fill="none"/>
<line x1="587.8" y1="270.2" x2="604.1" y2="270.2" stroke="#111" stroke-width="1.3" />
<circle cx="590.8" cy="265.1" r="2.9" fill="#000"/>
<circle cx="601.1" cy="266.4" r="2.9" fill="#000"/>
<circle cx="596.2" cy="279.6" r="2.9" fill="#000"/>
<path d="M620.7 297.3V319.5M616.9 297.3h7.6M616.9 319.5h7.6" stroke="#222" stroke-width="1" fill="none"/>
<line x1="612.3" y1="308.5" x2="628.9" y2="308.5" stroke="#111" stroke-width="1.3" />
<circle cx="625.8" cy="299.4" r="2.95" fill="#fff" stroke="#000" stroke-width="1.35"/>
<circle cx="620.5" cy="305.5" r="2.95" fill="#fff" stroke="#000" stroke-width="1.35"/>
<circle cx="620.7" cy="320.5" r="2.95" fill="#fff" stroke="#000" stroke-width="1.35"/>
<text x="403.6" y="473.8" font-family="Liberation Sans, sans-serif" font-weight="bold" font-size="17.2" text-anchor="start" fill="#111" >F.</text>
<path d="M483.1 469.8V622H634.6" stroke="#111" stroke-width="1.1" fill="none"/>
<line x1="477.1" y1="622" x2="483.1" y2="622" stroke="#111" stroke-width="1.1" />
<text x="474.9" y="626.1" font-family="Liberation Sans, sans-serif" font-weight="bold" stroke="#111" stroke-width="0.28" font-size="11.7" text-anchor="end" fill="#111" >0</text>
<line x1="477.1" y1="583.94" x2="483.1" y2="583.94" stroke="#111" stroke-width="1.1" />
<text x="474.9" y="588.04" font-family="Liberation Sans, sans-serif" font-weight="bold" stroke="#111" stroke-width="0.28" font-size="11.7" text-anchor="end" fill="#111" >2</text>
<line x1="477.1" y1="545.88" x2="483.1" y2="545.88" stroke="#111" stroke-width="1.1" />
<text x="474.9" y="549.98" font-family="Liberation Sans, sans-serif" font-weight="bold" stroke="#111" stroke-width="0.28" font-size="11.7" text-anchor="end" fill="#111" >4</text>
<line x1="477.1" y1="507.82" x2="483.1" y2="507.82" stroke="#111" stroke-width="1.1" />
<text x="474.9" y="511.92" font-family="Liberation Sans, sans-serif" font-weight="bold" stroke="#111" stroke-width="0.28" font-size="11.7" text-anchor="end" fill="#111" >6</text>
<line x1="477.1" y1="469.76" x2="483.1" y2="469.76" stroke="#111" stroke-width="1.1" />
<text x="474.9" y="473.86" font-family="Liberation Sans, sans-serif" font-weight="bold" stroke="#111" stroke-width="0.28" font-size="11.7" text-anchor="end" fill="#111" >8</text>
<text x="0" y="0" font-family="Liberation Sans, sans-serif" font-weight="bold" stroke="#111" stroke-width="0.28" font-size="13.7" text-anchor="middle" fill="#111" transform="translate(441.8 547.6) rotate(-90)" >17kDa fragment levels</text>
<text x="0" y="0" font-family="Liberation Sans, sans-serif" font-weight="bold" stroke="#111" stroke-width="0.28" font-size="13.7" text-anchor="middle" fill="#111" transform="translate(459 547.8) rotate(-90)" >of cleaved Caspse 3</text>
<line x1="498.1" y1="622" x2="498.1" y2="627.3" stroke="#111" stroke-width="1.1" />
<line x1="496.3" y1="638.7" x2="499.9" y2="638.7" stroke="#111" stroke-width="1.5" />
<line x1="522.1" y1="622" x2="522.1" y2="627.3" stroke="#111" stroke-width="1.1" />
<line x1="520.3" y1="638.7" x2="523.9" y2="638.7" stroke="#111" stroke-width="1.5" />
<line x1="546" y1="622" x2="546" y2="627.3" stroke="#111" stroke-width="1.1" />
<path d="M543 638.3h6M546 635.3v6" stroke="#111" stroke-width="1.5" fill="none"/>
<line x1="570" y1="622" x2="570" y2="627.3" stroke="#111" stroke-width="1.1" />
<path d="M567 638.3h6M570 635.3v6" stroke="#111" stroke-width="1.5" fill="none"/>
<line x1="593.9" y1="622" x2="593.9" y2="627.3" stroke="#111" stroke-width="1.1" />
<path d="M590.9 638.3h6M593.9 635.3v6" stroke="#111" stroke-width="1.5" fill="none"/>
<line x1="618.1" y1="622" x2="618.1" y2="627.3" stroke="#111" stroke-width="1.1" />
<path d="M615.1 638.3h6M618.1 635.3v6" stroke="#111" stroke-width="1.5" fill="none"/>
<text x="638.4" y="643.8" font-family="Liberation Sans, sans-serif" font-weight="bold" stroke="#111" stroke-width="0.28" font-size="12" text-anchor="start" fill="#111" >DOX</text>
<text x="557.4" y="657" font-family="Liberation Sans, sans-serif" font-weight="bold" stroke="#111" stroke-width="0.28" font-size="12" text-anchor="middle" fill="#111" >24h</text>
<text x="605.4" y="657" font-family="Liberation Sans, sans-serif" font-weight="bold" stroke="#111" stroke-width="0.28" font-size="12" text-anchor="middle" fill="#111" >48h</text>
<circle cx="644.1" cy="473.1" r="2.9" fill="#000"/>
<text x="651.3" y="476.3" font-family="Liberation Sans, sans-serif" font-weight="bold" stroke="#111" stroke-width="0.28" font-size="12" text-anchor="start" fill="#111" >Mock</text>
<circle cx="644.1" cy="489.3" r="2.9" fill="#fff" stroke="#000" stroke-width="1.3"/>
<text x="651.3" y="492.5" font-family="Liberation Sans, sans-serif" font-weight="bold" stroke="#111" stroke-width="0.28" font-size="12" text-anchor="start" fill="#111" >KD</text>
<line x1="594.8" y1="486.2" x2="616.6" y2="486.2" stroke="#222" stroke-width="1" />
<text x="605.7" y="486.4" font-family="Liberation Sans, sans-serif" font-size="15.5" text-anchor="middle" fill="#222" >**</text>
<path d="M498.1 589.9V617.4M494.9 589.9h6.4M494.9 617.4h6.4" stroke="#222" stroke-width="1" fill="none"/>
<line x1="490.3" y1="603.2" x2="506.5" y2="603.2" stroke="#111" stroke-width="1.3" />
<circle cx="498" cy="588.6" r="2.9" fill="#000"/>
<circle cx="498" cy="595.8" r="2.9" fill="#000"/>
<circle cx="493.4" cy="615.6" r="2.9" fill="#000"/>
<circle cx="503.7" cy="613.8" r="2.9" fill="#000"/>
<circle cx="517.3" cy="605.8" r="2.95" fill="#fff" stroke="#000" stroke-width="1.35"/>
<circle cx="522.4" cy="606.6" r="2.95" fill="#fff" stroke="#000" stroke-width="1.35"/>
<circle cx="517.8" cy="612.5" r="2.95" fill="#fff" stroke="#000" stroke-width="1.35"/>
<circle cx="527" cy="611.7" r="2.95" fill="#fff" stroke="#000" stroke-width="1.35"/>
<path d="M546 598.4V612.5M542.8 598.4h6.4M542.8 612.5h6.4" stroke="#222" stroke-width="1" fill="none"/>
<line x1="537.8" y1="605.3" x2="553.7" y2="605.3" stroke="#111" stroke-width="1.3" />
<circle cx="546" cy="597.1" r="2.9" fill="#000"/>
<circle cx="546.8" cy="604" r="2.9" fill="#000"/>
<circle cx="540.9" cy="613.5" r="2.9" fill="#000"/>
<circle cx="550.6" cy="607.9" r="2.9" fill="#000"/>
<path d="M570 575.8V614.3M566.8 575.8h6.4M566.8 614.3h6.4" stroke="#222" stroke-width="1" fill="none"/>
<line x1="562.2" y1="595" x2="578.1" y2="595" stroke="#111" stroke-width="1.3" />
<circle cx="570.4" cy="568.6" r="2.95" fill="#fff" stroke="#000" stroke-width="1.35"/>
<circle cx="570.4" cy="594.5" r="2.95" fill="#fff" stroke="#000" stroke-width="1.35"/>
<circle cx="570.4" cy="605.8" r="2.95" fill="#fff" stroke="#000" stroke-width="1.35"/>
<circle cx="570.4" cy="612.5" r="2.95" fill="#fff" stroke="#000" stroke-width="1.35"/>
<path d="M593.9 561.7V612.5M590.7 561.7h6.4M590.7 612.5h6.4" stroke="#222" stroke-width="1" fill="none"/>
<line x1="586.3" y1="587.3" x2="602" y2="587.3" stroke="#111" stroke-width="1.3" />
<circle cx="594" cy="553.2" r="2.9" fill="#000"/>
<circle cx="594" cy="583" r="2.9" fill="#000"/>
<circle cx="589.1" cy="609.1" r="2.9" fill="#000"/>
<circle cx="599.1" cy="604" r="2.9" fill="#000"/>
<path d="M618.1 504.4V548.3M614.9 504.4h6.4M614.9 548.3h6.4" stroke="#222" stroke-width="1" fill="none"/>
<line x1="610.2" y1="526.2" x2="626.1" y2="526.2" stroke="#111" stroke-width="1.3" />
<circle cx="618.1" cy="498.8" r="2.95" fill="#fff" stroke="#000" stroke-width="1.35"/>
<circle cx="618.1" cy="523.2" r="2.95" fill="#fff" stroke="#000" stroke-width="1.35"/>
<circle cx="618.1" cy="530.9" r="2.95" fill="#fff" stroke="#000" stroke-width="1.35"/>
<circle cx="618.1" cy="553.2" r="2.95" fill="#fff" stroke="#000" stroke-width="1.35"/>
<text x="203" y="714.8" font-family="Liberation Sans, sans-serif" font-weight="bold" font-size="17.2" text-anchor="start" fill="#111" >G.</text>
<path d="M283.6 723.5V859.3H437.6" stroke="#111" stroke-width="1.1" fill="none"/>
<line x1="277.6" y1="859.3" x2="283.6" y2="859.3" stroke="#111" stroke-width="1.1" />
<text x="275.6" y="863.4" font-family="Liberation Sans, sans-serif" font-weight="bold" stroke="#111" stroke-width="0.28" font-size="11.7" text-anchor="end" fill="#111" >0</text>
<line x1="277.6" y1="825.35" x2="283.6" y2="825.35" stroke="#111" stroke-width="1.1" />
<text x="275.6" y="829.45" font-family="Liberation Sans, sans-serif" font-weight="bold" stroke="#111" stroke-width="0.28" font-size="11.7" text-anchor="end" fill="#111" >10</text>
<line x1="277.6" y1="791.4" x2="283.6" y2="791.4" stroke="#111" stroke-width="1.1" />
<text x="275.6" y="795.5" font-family="Liberation Sans, sans-serif" font-weight="bold" stroke="#111" stroke-width="0.28" font-size="11.7" text-anchor="end" fill="#111" >20</text>
<line x1="277.6" y1="757.45" x2="283.6" y2="757.45" stroke="#111" stroke-width="1.1" />
<text x="275.6" y="761.55" font-family="Liberation Sans, sans-serif" font-weight="bold" stroke="#111" stroke-width="0.28" font-size="11.7" text-anchor="end" fill="#111" >30</text>
<line x1="277.6" y1="723.5" x2="283.6" y2="723.5" stroke="#111" stroke-width="1.1" />
<text x="275.6" y="727.6" font-family="Liberation Sans, sans-serif" font-weight="bold" stroke="#111" stroke-width="0.28" font-size="11.7" text-anchor="end" fill="#111" >40</text>
<text x="0" y="0" font-family="Liberation Sans, sans-serif" font-weight="bold" stroke="#111" stroke-width="0.28" font-size="13.7" text-anchor="middle" fill="#111" transform="translate(238.8 795.5) rotate(-90)" >Cleaved/Total PARP1</text>
<text x="0" y="0" font-family="Liberation Sans, sans-serif" font-weight="bold" stroke="#111" stroke-width="0.28" font-size="13.7" text-anchor="middle" fill="#111" transform="translate(256.6 795.6) rotate(-90)" >protein levels</text>
<line x1="299.9" y1="859.3" x2="299.9" y2="864.6" stroke="#111" stroke-width="1.1" />
<line x1="298.1" y1="876" x2="301.7" y2="876" stroke="#111" stroke-width="1.5" />
<line x1="324.1" y1="859.3" x2="324.1" y2="864.6" stroke="#111" stroke-width="1.1" />
<line x1="322.3" y1="876" x2="325.9" y2="876" stroke="#111" stroke-width="1.5" />
<line x1="348" y1="859.3" x2="348" y2="864.6" stroke="#111" stroke-width="1.1" />
<path d="M345 875.6h6M348 872.6v6" stroke="#111" stroke-width="1.5" fill="none"/>
<line x1="372.3" y1="859.3" x2="372.3" y2="864.6" stroke="#111" stroke-width="1.1" />
<path d="M369.3 875.6h6M372.3 872.6v6" stroke="#111" stroke-width="1.5" fill="none"/>
<line x1="396.5" y1="859.3" x2="396.5" y2="864.6" stroke="#111" stroke-width="1.1" />
<path d="M393.5 875.6h6M396.5 872.6v6" stroke="#111" stroke-width="1.5" fill="none"/>
<line x1="420.7" y1="859.3" x2="420.7" y2="864.6" stroke="#111" stroke-width="1.1" />
<path d="M417.7 875.6h6M420.7 872.6v6" stroke="#111" stroke-width="1.5" fill="none"/>
<text x="441.3" y="881.1" font-family="Liberation Sans, sans-serif" font-weight="bold" stroke="#111" stroke-width="0.28" font-size="12" text-anchor="start" fill="#111" >DOX</text>
<text x="359.55" y="894.3" font-family="Liberation Sans, sans-serif" font-weight="bold" stroke="#111" stroke-width="0.28" font-size="12" text-anchor="middle" fill="#111" >24h</text>
<text x="408" y="894.3" font-family="Liberation Sans, sans-serif" font-weight="bold" stroke="#111" stroke-width="0.28" font-size="12" text-anchor="middle" fill="#111" >48h</text>
<circle cx="441.1" cy="741.4" r="2.9" fill="#000"/>
<text x="448" y="744.6" font-family="Liberation Sans, sans-serif" font-weight="bold" stroke="#111" stroke-width="0.28" font-size="12" text-anchor="start" fill="#111" >Mock</text>
<circle cx="441.1" cy="757.6" r="2.9" fill="#fff" stroke="#000" stroke-width="1.3"/>
<text x="448" y="760.8" font-family="Liberation Sans, sans-serif" font-weight="bold" stroke="#111" stroke-width="0.28" font-size="12" text-anchor="start" fill="#111" >KD</text>
<line x1="395.4" y1="731.2" x2="419" y2="731.2" stroke="#222" stroke-width="1" />
<text x="407.2" y="731.4" font-family="Liberation Sans, sans-serif" font-size="15.5" text-anchor="middle" fill="#222" >***</text>
<circle cx="294.7" cy="856.8" r="2.9" fill="#000"/>
<circle cx="298" cy="855" r="2.9" fill="#000"/>
<circle cx="301.7" cy="856.3" r="2.9" fill="#000"/>
<circle cx="304.9" cy="854.8" r="2.9" fill="#000"/>
<circle cx="318.3" cy="855.3" r="2.95" fill="#fff" stroke="#000" stroke-width="1.35"/>
<circle cx="324" cy="853.8" r="2.95" fill="#fff" stroke="#000" stroke-width="1.35"/>
<circle cx="329" cy="848.9" r="2.95" fill="#fff" stroke="#000" stroke-width="1.35"/>
<circle cx="329" cy="854.6" r="2.95" fill="#fff" stroke="#000" stroke-width="1.35"/>
<circle cx="342.6" cy="855.5" r="2.9" fill="#000"/>
<circle cx="346.4" cy="853.3" r="2.9" fill="#000"/>
<circle cx="350.1" cy="855" r="2.9" fill="#000"/>
<circle cx="353.3" cy="854.3" r="2.9" fill="#000"/>
<path d="M372.3 843.9V853.5M369.3 843.9h6M369.3 853.5h6" stroke="#222" stroke-width="1" fill="none"/>
<line x1="364.9" y1="848.8" x2="379.8" y2="848.8" stroke="#111" stroke-width="1.3" />
<circle cx="372.3" cy="840.9" r="2.95" fill="#fff" stroke="#000" stroke-width="1.35"/>
<circle cx="367.4" cy="853.1" r="2.95" fill="#fff" stroke="#000" stroke-width="1.35"/>
<circle cx="372.3" cy="851.8" r="2.95" fill="#fff" stroke="#000" stroke-width="1.35"/>
<circle cx="377.3" cy="852.1" r="2.95" fill="#fff" stroke="#000" stroke-width="1.35"/>
<path d="M396.5 840.7V850M393.5 840.7h6M393.5 850h6" stroke="#222" stroke-width="1" fill="none"/>
<line x1="388.5" y1="845.4" x2="404.1" y2="845.4" stroke="#111" stroke-width="1.3" />
<circle cx="396.7" cy="838.9" r="2.9" fill="#000"/>
<circle cx="391.7" cy="848.8" r="2.9" fill="#000"/>
<circle cx="396.7" cy="846.9" r="2.9" fill="#000"/>
<circle cx="401.6" cy="846.9" r="2.9" fill="#000"/>
<path d="M420.7 743V790M416.7 743h8M416.7 790h8" stroke="#222" stroke-width="1" fill="none"/>
<line x1="412.5" y1="766.4" x2="428.9" y2="766.4" stroke="#111" stroke-width="1.3" />
<circle cx="421" cy="741.6" r="2.95" fill="#fff" stroke="#000" stroke-width="1.35"/>
<circle cx="421" cy="758.3" r="2.95" fill="#fff" stroke="#000" stroke-width="1.35"/>
<circle cx="421" cy="766.9" r="2.95" fill="#fff" stroke="#000" stroke-width="1.35"/>
<circle cx="421" cy="798.5" r="2.95" fill="#fff" stroke="#000" stroke-width="1.35"/>
<text x="1" y="474.5" font-family="Liberation Sans, sans-serif" font-weight="bold" font-size="17.2" text-anchor="start" fill="#111" >E.</text>
<text x="9.6" y="523.2" font-family="Liberation Sans, sans-serif" font-weight="bold" stroke="#111" stroke-width="0.28" font-size="12" text-anchor="start" fill="#111" >kDa</text>
<defs><filter id="b1" x="-20%" y="-100%" width="140%" height="300%"><feGaussianBlur stdDeviation="1.7 0.8"/></filter><filter id="b2" x="-20%" y="-100%" width="140%" height="300%"><feGaussianBlur stdDeviation="1.6 1.0"/></filter><filter id="b3" x="-50%" y="-50%" width="200%" height="200%"><feGaussianBlur stdDeviation="0.55"/></filter><filter id="b4" x="-50%" y="-50%" width="200%" height="200%"><feGaussianBlur stdDeviation="5 3"/></filter><linearGradient id="g1" x1="0" x2="1" y1="0" y2="0"><stop offset="0" stop-color="#a2a2a2"/><stop offset="0.45" stop-color="#969696"/><stop offset="0.8" stop-color="#868686"/><stop offset="1" stop-color="#7a7a7a"/></linearGradient><clipPath id="cb0"><rect x="42.6" y="532.3" width="173" height="27.4"/></clipPath><clipPath id="cb1"><rect x="42.6" y="563.1" width="173" height="27.6"/></clipPath><clipPath id="cb2"><rect x="42.6" y="592.9" width="173" height="28.3"/></clipPath><clipPath id="cb3"><rect x="42.6" y="623.3" width="173" height="27.6"/></clipPath></defs>
<rect x="42.6" y="532.3" width="173" height="27.4" fill="url(#g1)"/>
<g clip-path="url(#cb0)">
<ellipse cx="78" cy="553" rx="16" ry="5" fill="#fff" fill-opacity="0.5" filter="url(#b4)"/>
<ellipse cx="50" cy="548" rx="8" ry="7" fill="#fff" fill-opacity="0.3" filter="url(#b4)"/>
<ellipse cx="120" cy="540" rx="25" ry="4" fill="#fff" fill-opacity="0.2" filter="url(#b4)"/>
<ellipse cx="130" cy="533" rx="80" ry="1.5" fill="#000" fill-opacity="0.25" filter="url(#b4)"/>
<ellipse cx="150" cy="556" rx="22" ry="3" fill="#000" fill-opacity="0.18" filter="url(#b4)"/>
<ellipse cx="110" cy="550" rx="30" ry="3" fill="#000" fill-opacity="0.1" filter="url(#b4)"/>
<ellipse cx="185" cy="545" rx="25" ry="10" fill="#000" fill-opacity="0.12" filter="url(#b4)"/>
<ellipse cx="60" cy="536" rx="14" ry="3" fill="#000" fill-opacity="0.1" filter="url(#b4)"/>
<g fill="#1a1a1a" filter="url(#b3)"><ellipse cx="194.01" cy="561.12" rx="1" ry="0.58" fill-opacity="0.25"/><ellipse cx="75.7" cy="535.35" rx="0.79" ry="0.46" fill-opacity="0.46"/><ellipse cx="154.89" cy="546.48" rx="0.88" ry="0.61" fill-opacity="0.24"/><ellipse cx="89.46" cy="544.93" rx="0.51" ry="0.6" fill-opacity="0.15"/><ellipse cx="131.75" cy="549.55" rx="0.67" ry="0.68" fill-opacity="0.45"/><ellipse cx="202.5" cy="555.1" rx="0.76" ry="0.68" fill-opacity="0.34"/><ellipse cx="81.68" cy="538.94" rx="1.13" ry="0.62" fill-opacity="0.44"/><ellipse cx="140.4" cy="549.44" rx="1.1" ry="0.72" fill-opacity="0.44"/><ellipse cx="143.76" cy="544.46" rx="1.02" ry="0.42" fill-opacity="0.22"/><ellipse cx="106.1" cy="539.5" rx="0.73" ry="0.62" fill-opacity="0.32"/><ellipse cx="143.38" cy="557.16" rx="0.57" ry="0.7" fill-opacity="0.27"/><ellipse cx="60.84" cy="543.04" rx="1.12" ry="0.53" fill-opacity="0.15"/><ellipse cx="184.75" cy="539.04" rx="1.02" ry="0.41" fill-opacity="0.35"/><ellipse cx="113.95" cy="558.32" rx="0.54" ry="0.47" fill-opacity="0.31"/><ellipse cx="194.4" cy="554.6" rx="1.12" ry="0.54" fill-opacity="0.46"/><ellipse cx="100.07" cy="535.4" rx="0.93" ry="0.71" fill-opacity="0.49"/><ellipse cx="175.26" cy="552.58" rx="0.96" ry="0.67" fill-opacity="0.49"/><ellipse cx="99.9" cy="546.56" rx="0.54" ry="0.56" fill-opacity="0.43"/><ellipse cx="81.48" cy="538.14" rx="1.03" ry="0.46" fill-opacity="0.22"/><ellipse cx="182.9" cy="553.88" rx="1.09" ry="0.42" fill-opacity="0.49"/><ellipse cx="141.24" cy="540.98" rx="0.93" ry="0.75" fill-opacity="0.19"/><ellipse cx="142.94" cy="545.31" rx="0.66" ry="0.41" fill-opacity="0.34"/><ellipse cx="126.52" cy="546.48" rx="1.12" ry="0.68" fill-opacity="0.32"/><ellipse cx="79.71" cy="548.64" rx="0.99" ry="0.75" fill-opacity="0.23"/><ellipse cx="119.32" cy="552.88" rx="0.81" ry="0.59" fill-opacity="0.24"/><ellipse cx="112.89" cy="547" rx="1.15" ry="0.6" fill-opacity="0.34"/><ellipse cx="153.44" cy="551.76" rx="0.88" ry="0.61" fill-opacity="0.27"/><ellipse cx="103.16" cy="548.88" rx="0.55" ry="0.52" fill-opacity="0.15"/><ellipse cx="117.02" cy="549.31" rx="0.91" ry="0.46" fill-opacity="0.46"/><ellipse cx="168.53" cy="545.94" rx="0.83" ry="0.46" fill-opacity="0.37"/><ellipse cx="86.17" cy="542.48" rx="1.1" ry="0.72" fill-opacity="0.41"/><ellipse cx="173.65" cy="536.93" rx="0.62" ry="0.45" fill-opacity="0.29"/><ellipse cx="169.8" cy="554.76" rx="0.89" ry="0.74" fill-opacity="0.28"/><ellipse cx="128.59" cy="541.89" rx="0.7" ry="0.68" fill-opacity="0.18"/><ellipse cx="97.41" cy="543.51" rx="1.05" ry="0.53" fill-opacity="0.23"/><ellipse cx="188.29" cy="547.91" rx="1.08" ry="0.65" fill-opacity="0.24"/><ellipse cx="45.26" cy="547.26" rx="1.02" ry="0.47" fill-opacity="0.37"/><ellipse cx="127.46" cy="545.52" rx="0.88" ry="0.71" fill-opacity="0.38"/><ellipse cx="174.91" cy="549.6" rx="0.62" ry="0.45" fill-opacity="0.22"/><ellipse cx="114.65" cy="542.97" rx="1.03" ry="0.56" fill-opacity="0.31"/><ellipse cx="76.44" cy="536.41" rx="1.06" ry="0.65" fill-opacity="0.44"/><ellipse cx="66.33" cy="542.58" rx="0.78" ry="0.72" fill-opacity="0.49"/><ellipse cx="44.73" cy="544.3" rx="0.73" ry="0.53" fill-opacity="0.27"/><ellipse cx="83.11" cy="533.96" rx="1.15" ry="0.41" fill-opacity="0.45"/><ellipse cx="140.94" cy="544.84" rx="0.68" ry="0.74" fill-opacity="0.31"/><ellipse cx="92.37" cy="557.13" rx="0.97" ry="0.45" fill-opacity="0.46"/><ellipse cx="119.06" cy="553.27" rx="0.92" ry="0.67" fill-opacity="0.43"/><ellipse cx="120.07" cy="541.58" rx="1.08" ry="0.48" fill-opacity="0.41"/><ellipse cx="181.53" cy="538.29" rx="0.93" ry="0.74" fill-opacity="0.29"/><ellipse cx="100.2" cy="547.79" rx="0.67" ry="0.7" fill-opacity="0.25"/><ellipse cx="174.25" cy="541.45" rx="1.07" ry="0.57" fill-opacity="0.37"/><ellipse cx="140.17" cy="541.04" rx="0.79" ry="0.5" fill-opacity="0.21"/><ellipse cx="179.18" cy="553.5" rx="0.88" ry="0.75" fill-opacity="0.19"/><ellipse cx="173.02" cy="548.24" rx="0.99" ry="0.69" fill-opacity="0.44"/><ellipse cx="102.44" cy="542.97" rx="0.53" ry="0.69" fill-opacity="0.36"/><ellipse cx="119.44" cy="549.51" rx="1.02" ry="0.63" fill-opacity="0.22"/><ellipse cx="209.77" cy="543.13" rx="0.83" ry="0.64" fill-opacity="0.46"/><ellipse cx="76.29" cy="538.92" rx="0.72" ry="0.72" fill-opacity="0.24"/><ellipse cx="133.69" cy="549.17" rx="0.65" ry="0.47" fill-opacity="0.3"/><ellipse cx="163.08" cy="550.56" rx="0.79" ry="0.71" fill-opacity="0.25"/><ellipse cx="89.8" cy="533.86" rx="0.61" ry="0.5" fill-opacity="0.24"/><ellipse cx="161.86" cy="549.3" rx="0.78" ry="0.4" fill-opacity="0.36"/><ellipse cx="102.92" cy="538.67" rx="1.05" ry="0.56" fill-opacity="0.26"/><ellipse cx="139.08" cy="541.13" rx="0.91" ry="0.66" fill-opacity="0.21"/><ellipse cx="124.89" cy="546.18" rx="0.98" ry="0.49" fill-opacity="0.36"/><ellipse cx="171.34" cy="547.59" rx="0.58" ry="0.48" fill-opacity="0.27"/><ellipse cx="156.22" cy="553.68" rx="0.93" ry="0.54" fill-opacity="0.19"/><ellipse cx="182.02" cy="550.77" rx="0.84" ry="0.68" fill-opacity="0.41"/><ellipse cx="133.85" cy="551.77" rx="1.12" ry="0.49" fill-opacity="0.47"/><ellipse cx="148.83" cy="552.26" rx="0.84" ry="0.43" fill-opacity="0.3"/><ellipse cx="163.16" cy="552.47" rx="0.5" ry="0.64" fill-opacity="0.49"/><ellipse cx="173.48" cy="550.39" rx="1.11" ry="0.47" fill-opacity="0.44"/><ellipse cx="171.96" cy="546.89" rx="0.6" ry="0.68" fill-opacity="0.22"/><ellipse cx="100.23" cy="537.08" rx="0.99" ry="0.6" fill-opacity="0.42"/><ellipse cx="83.29" cy="548.14" rx="0.97" ry="0.6" fill-opacity="0.18"/><ellipse cx="108.05" cy="552.04" rx="1.09" ry="0.57" fill-opacity="0.48"/><ellipse cx="86.59" cy="548.97" rx="0.5" ry="0.43" fill-opacity="0.26"/><ellipse cx="80.6" cy="537.74" rx="0.92" ry="0.57" fill-opacity="0.39"/><ellipse cx="99.29" cy="536.17" rx="0.82" ry="0.69" fill-opacity="0.32"/><ellipse cx="194.62" cy="557.1" rx="1.01" ry="0.41" fill-opacity="0.39"/><ellipse cx="81.29" cy="540.94" rx="0.73" ry="0.64" fill-opacity="0.31"/><ellipse cx="92.35" cy="543.95" rx="0.78" ry="0.41" fill-opacity="0.28"/><ellipse cx="155.74" cy="550.69" rx="0.77" ry="0.71" fill-opacity="0.25"/><ellipse cx="136.07" cy="540.54" rx="0.68" ry="0.64" fill-opacity="0.27"/><ellipse cx="160.48" cy="549.04" rx="0.91" ry="0.56" fill-opacity="0.31"/><ellipse cx="195.49" cy="547.45" rx="0.94" ry="0.72" fill-opacity="0.37"/><ellipse cx="79.99" cy="533.62" rx="1.13" ry="0.68" fill-opacity="0.17"/><ellipse cx="161.48" cy="548.59" rx="0.69" ry="0.54" fill-opacity="0.28"/><ellipse cx="143.36" cy="535.31" rx="0.59" ry="0.42" fill-opacity="0.47"/><ellipse cx="179.13" cy="541.72" rx="0.98" ry="0.63" fill-opacity="0.44"/><ellipse cx="137.05" cy="546.38" rx="0.66" ry="0.52" fill-opacity="0.45"/><ellipse cx="134.06" cy="542.08" rx="0.6" ry="0.66" fill-opacity="0.28"/><ellipse cx="131.96" cy="542.11" rx="0.61" ry="0.7" fill-opacity="0.38"/><ellipse cx="129.89" cy="550.06" rx="1.11" ry="0.67" fill-opacity="0.25"/><ellipse cx="124.95" cy="534.38" rx="0.96" ry="0.62" fill-opacity="0.36"/><ellipse cx="56.34" cy="546.61" rx="0.9" ry="0.71" fill-opacity="0.27"/><ellipse cx="85.37" cy="544.43" rx="1.05" ry="0.66" fill-opacity="0.33"/><ellipse cx="127.28" cy="544.75" rx="0.63" ry="0.74" fill-opacity="0.18"/><ellipse cx="50.72" cy="546.43" rx="0.68" ry="0.45" fill-opacity="0.18"/><ellipse cx="180.7" cy="548.53" rx="0.64" ry="0.59" fill-opacity="0.17"/><ellipse cx="98.82" cy="556.35" rx="0.8" ry="0.73" fill-opacity="0.27"/><ellipse cx="55.99" cy="544.86" rx="1.02" ry="0.53" fill-opacity="0.33"/><ellipse cx="195.77" cy="556.35" rx="1.02" ry="0.64" fill-opacity="0.25"/><ellipse cx="155.28" cy="536.23" rx="0.84" ry="0.51" fill-opacity="0.3"/><ellipse cx="136.45" cy="546.63" rx="0.52" ry="0.44" fill-opacity="0.45"/><ellipse cx="73.66" cy="541.19" rx="0.75" ry="0.54" fill-opacity="0.16"/><ellipse cx="121.52" cy="542.57" rx="0.53" ry="0.5" fill-opacity="0.15"/><ellipse cx="71.5" cy="534.96" rx="0.84" ry="0.48" fill-opacity="0.37"/><ellipse cx="88.47" cy="549.78" rx="0.76" ry="0.72" fill-opacity="0.39"/><ellipse cx="160.44" cy="543.45" rx="0.9" ry="0.5" fill-opacity="0.18"/><ellipse cx="163.47" cy="553.16" rx="0.58" ry="0.49" fill-opacity="0.47"/><ellipse cx="148.35" cy="543.6" rx="0.94" ry="0.46" fill-opacity="0.24"/><ellipse cx="194.17" cy="557.09" rx="0.85" ry="0.72" fill-opacity="0.38"/><ellipse cx="188.31" cy="547.32" rx="0.85" ry="0.52" fill-opacity="0.23"/><ellipse cx="119.2" cy="542.26" rx="0.83" ry="0.52" fill-opacity="0.46"/><ellipse cx="146.77" cy="545.67" rx="1.01" ry="0.54" fill-opacity="0.34"/><ellipse cx="181.49" cy="549.85" rx="1.08" ry="0.46" fill-opacity="0.21"/><ellipse cx="205.16" cy="553.8" rx="0.84" ry="0.55" fill-opacity="0.48"/><ellipse cx="134.64" cy="551.17" rx="1.07" ry="0.6" fill-opacity="0.2"/><ellipse cx="161.34" cy="537.4" rx="0.63" ry="0.5" fill-opacity="0.45"/><ellipse cx="130.2" cy="549.07" rx="0.76" ry="0.74" fill-opacity="0.41"/><ellipse cx="175.75" cy="553.35" rx="0.78" ry="0.5" fill-opacity="0.32"/><ellipse cx="113.03" cy="535.99" rx="0.93" ry="0.45" fill-opacity="0.36"/><ellipse cx="200.55" cy="556.33" rx="0.92" ry="0.57" fill-opacity="0.48"/><ellipse cx="177.33" cy="551.22" rx="0.55" ry="0.62" fill-opacity="0.16"/><ellipse cx="166.86" cy="533.66" rx="0.88" ry="0.68" fill-opacity="0.47"/><ellipse cx="142.51" cy="547.29" rx="0.95" ry="0.68" fill-opacity="0.33"/><ellipse cx="75.51" cy="537.79" rx="1.05" ry="0.43" fill-opacity="0.36"/><ellipse cx="92.33" cy="541.06" rx="0.84" ry="0.42" fill-opacity="0.3"/><ellipse cx="83.05" cy="536.91" rx="1.02" ry="0.66" fill-opacity="0.29"/><ellipse cx="124.63" cy="551.56" rx="0.85" ry="0.48" fill-opacity="0.24"/><ellipse cx="145.98" cy="546.46" rx="1.14" ry="0.52" fill-opacity="0.43"/><ellipse cx="143.79" cy="543.16" rx="0.54" ry="0.61" fill-opacity="0.44"/><ellipse cx="85.26" cy="542.98" rx="0.62" ry="0.52" fill-opacity="0.19"/><ellipse cx="161.77" cy="550.58" rx="0.95" ry="0.72" fill-opacity="0.43"/><ellipse cx="93.3" cy="550.26" rx="0.89" ry="0.53" fill-opacity="0.19"/><ellipse cx="84.22" cy="541.15" rx="0.63" ry="0.44" fill-opacity="0.32"/><ellipse cx="149.79" cy="545.72" rx="1.1" ry="0.69" fill-opacity="0.41"/><ellipse cx="111.37" cy="547.79" rx="0.78" ry="0.42" fill-opacity="0.38"/><ellipse cx="192.3" cy="541.18" rx="0.97" ry="0.63" fill-opacity="0.16"/><ellipse cx="46.08" cy="546.22" rx="0.57" ry="0.74" fill-opacity="0.23"/><ellipse cx="180.67" cy="561.99" rx="1.13" ry="0.41" fill-opacity="0.41"/><ellipse cx="137.31" cy="546.78" rx="0.59" ry="0.45" fill-opacity="0.4"/><ellipse cx="123.17" cy="549.42" rx="0.97" ry="0.45" fill-opacity="0.4"/><ellipse cx="181.4" cy="549.59" rx="1.05" ry="0.62" fill-opacity="0.24"/><ellipse cx="78.98" cy="536.45" rx="0.54" ry="0.62" fill-opacity="0.36"/><ellipse cx="138.23" cy="554.41" rx="0.58" ry="0.49" fill-opacity="0.5"/><ellipse cx="168.81" cy="548.19" rx="0.95" ry="0.51" fill-opacity="0.45"/><ellipse cx="154.56" cy="543.75" rx="0.65" ry="0.66" fill-opacity="0.35"/><ellipse cx="185.71" cy="552.14" rx="0.55" ry="0.57" fill-opacity="0.36"/><ellipse cx="135.86" cy="533.59" rx="0.98" ry="0.57" fill-opacity="0.2"/><ellipse cx="72.93" cy="533.56" rx="0.96" ry="0.63" fill-opacity="0.33"/><ellipse cx="115.46" cy="551.19" rx="0.88" ry="0.43" fill-opacity="0.49"/><ellipse cx="47.04" cy="550.04" rx="0.76" ry="0.65" fill-opacity="0.49"/><ellipse cx="152.01" cy="548.72" rx="0.64" ry="0.62" fill-opacity="0.45"/><ellipse cx="109.48" cy="538.81" rx="0.67" ry="0.5" fill-opacity="0.49"/><ellipse cx="175.75" cy="542.99" rx="0.68" ry="0.5" fill-opacity="0.22"/><ellipse cx="138.6" cy="538.69" rx="1.15" ry="0.47" fill-opacity="0.39"/><ellipse cx="88.77" cy="541.22" rx="0.86" ry="0.69" fill-opacity="0.49"/><ellipse cx="137.95" cy="554.91" rx="0.77" ry="0.44" fill-opacity="0.32"/><ellipse cx="94.34" cy="555.23" rx="0.53" ry="0.56" fill-opacity="0.23"/><ellipse cx="84.85" cy="538.05" rx="0.94" ry="0.72" fill-opacity="0.46"/><ellipse cx="129.04" cy="535.98" rx="0.85" ry="0.47" fill-opacity="0.37"/><ellipse cx="179.76" cy="541.25" rx="0.72" ry="0.67" fill-opacity="0.35"/><ellipse cx="188.74" cy="539.91" rx="0.69" ry="0.57" fill-opacity="0.46"/><ellipse cx="160.56" cy="554.34" rx="0.9" ry="0.73" fill-opacity="0.23"/><ellipse cx="185.17" cy="549.08" rx="1.14" ry="0.5" fill-opacity="0.47"/><ellipse cx="77.44" cy="543.3" rx="0.61" ry="0.51" fill-opacity="0.47"/><ellipse cx="137.71" cy="545.28" rx="0.84" ry="0.74" fill-opacity="0.3"/><ellipse cx="153.98" cy="552.68" rx="0.88" ry="0.69" fill-opacity="0.34"/><ellipse cx="187.65" cy="546.26" rx="0.84" ry="0.68" fill-opacity="0.31"/><ellipse cx="76.53" cy="550.48" rx="0.59" ry="0.49" fill-opacity="0.29"/><ellipse cx="68.67" cy="552.73" rx="0.81" ry="0.73" fill-opacity="0.47"/><ellipse cx="183.52" cy="550.1" rx="1" ry="0.7" fill-opacity="0.32"/><ellipse cx="204.17" cy="553.37" rx="1.07" ry="0.45" fill-opacity="0.29"/><ellipse cx="140.14" cy="554.17" rx="0.74" ry="0.59" fill-opacity="0.3"/><ellipse cx="88.36" cy="536.83" rx="0.95" ry="0.65" fill-opacity="0.43"/><ellipse cx="142.76" cy="547.64" rx="0.76" ry="0.41" fill-opacity="0.47"/><ellipse cx="148.26" cy="554.59" rx="0.57" ry="0.5" fill-opacity="0.38"/><ellipse cx="201.46" cy="549.12" rx="1.08" ry="0.49" fill-opacity="0.21"/><ellipse cx="157.82" cy="552.71" rx="1.02" ry="0.74" fill-opacity="0.21"/><ellipse cx="81.53" cy="542.07" rx="0.96" ry="0.58" fill-opacity="0.16"/><ellipse cx="181.49" cy="556.11" rx="0.51" ry="0.51" fill-opacity="0.33"/><ellipse cx="120.59" cy="539.41" rx="0.91" ry="0.44" fill-opacity="0.49"/><ellipse cx="51.6" cy="550.71" rx="0.94" ry="0.58" fill-opacity="0.21"/><ellipse cx="177.86" cy="547.2" rx="1.02" ry="0.61" fill-opacity="0.44"/><ellipse cx="77.79" cy="541.41" rx="1.11" ry="0.74" fill-opacity="0.16"/><ellipse cx="116.83" cy="557.7" rx="0.8" ry="0.45" fill-opacity="0.33"/><ellipse cx="204.98" cy="553.18" rx="0.58" ry="0.7" fill-opacity="0.21"/><ellipse cx="98.36" cy="543.07" rx="0.93" ry="0.57" fill-opacity="0.45"/><ellipse cx="147.5" cy="546.35" rx="0.67" ry="0.43" fill-opacity="0.4"/><ellipse cx="132.66" cy="544.83" rx="1.05" ry="0.5" fill-opacity="0.31"/><ellipse cx="161.83" cy="547.44" rx="0.54" ry="0.66" fill-opacity="0.24"/><ellipse cx="65.49" cy="542.16" rx="0.86" ry="0.41" fill-opacity="0.28"/><ellipse cx="102.99" cy="542.43" rx="0.92" ry="0.53" fill-opacity="0.39"/><ellipse cx="141.14" cy="545.84" rx="0.53" ry="0.46" fill-opacity="0.29"/><ellipse cx="191.37" cy="543.29" rx="0.67" ry="0.65" fill-opacity="0.21"/><ellipse cx="188.78" cy="549.73" rx="1.15" ry="0.63" fill-opacity="0.49"/><ellipse cx="151.06" cy="557.25" rx="0.85" ry="0.53" fill-opacity="0.29"/><ellipse cx="117.47" cy="537.26" rx="1.15" ry="0.63" fill-opacity="0.16"/><ellipse cx="87.27" cy="554.98" rx="0.57" ry="0.58" fill-opacity="0.23"/><ellipse cx="204.39" cy="550.48" rx="0.97" ry="0.58" fill-opacity="0.28"/><ellipse cx="156.91" cy="540.43" rx="1.02" ry="0.68" fill-opacity="0.23"/><ellipse cx="94.69" cy="542.51" rx="0.6" ry="0.41" fill-opacity="0.26"/><ellipse cx="190.49" cy="544.65" rx="0.74" ry="0.65" fill-opacity="0.28"/><ellipse cx="116.83" cy="543.98" rx="1.09" ry="0.4" fill-opacity="0.34"/><ellipse cx="199.38" cy="551.81" rx="1.02" ry="0.66" fill-opacity="0.18"/><ellipse cx="184.22" cy="556.27" rx="1.12" ry="0.61" fill-opacity="0.42"/><ellipse cx="142.19" cy="549.01" rx="0.59" ry="0.48" fill-opacity="0.35"/><ellipse cx="173.07" cy="557.51" rx="1" ry="0.63" fill-opacity="0.39"/><ellipse cx="144.17" cy="533.33" rx="0.74" ry="0.68" fill-opacity="0.5"/><ellipse cx="100.84" cy="556.97" rx="0.68" ry="0.51" fill-opacity="0.45"/><ellipse cx="106.77" cy="545.21" rx="0.99" ry="0.72" fill-opacity="0.47"/><ellipse cx="129.3" cy="546.22" rx="0.59" ry="0.62" fill-opacity="0.49"/><ellipse cx="69.54" cy="550.61" rx="0.93" ry="0.69" fill-opacity="0.41"/><ellipse cx="90.95" cy="544.74" rx="0.66" ry="0.58" fill-opacity="0.31"/><ellipse cx="77.05" cy="541.41" rx="0.67" ry="0.55" fill-opacity="0.49"/><ellipse cx="104.6" cy="541.67" rx="0.65" ry="0.74" fill-opacity="0.35"/><ellipse cx="191.64" cy="547.44" rx="0.51" ry="0.65" fill-opacity="0.34"/><ellipse cx="81.79" cy="543.73" rx="0.94" ry="0.55" fill-opacity="0.33"/><ellipse cx="92.97" cy="542.78" rx="0.55" ry="0.5" fill-opacity="0.26"/><ellipse cx="84.35" cy="556.21" rx="0.51" ry="0.47" fill-opacity="0.48"/><ellipse cx="137.23" cy="546.39" rx="1.13" ry="0.73" fill-opacity="0.39"/><ellipse cx="166.9" cy="545.16" rx="0.68" ry="0.66" fill-opacity="0.28"/><ellipse cx="167.52" cy="547.5" rx="0.76" ry="0.64" fill-opacity="0.29"/><ellipse cx="171.76" cy="548.63" rx="1" ry="0.52" fill-opacity="0.23"/><ellipse cx="151.85" cy="543.74" rx="0.98" ry="0.58" fill-opacity="0.27"/><ellipse cx="193.3" cy="544.55" rx="0.75" ry="0.67" fill-opacity="0.42"/><ellipse cx="148.31" cy="544.53" rx="1.02" ry="0.48" fill-opacity="0.47"/><ellipse cx="186.8" cy="554.43" rx="0.99" ry="0.66" fill-opacity="0.19"/></g>
<path d="M160 547.4Q173 547.4 186 547.4L186 549.6Q173 549.6 160 549.6Z" fill="#000" fill-opacity="0.22" filter="url(#b2)"/>
<path d="M168 553.6Q178 553.6 188 553.6L188 555.4Q178 555.4 168 555.4Z" fill="#000" fill-opacity="0.2" filter="url(#b2)"/>
<path d="M189.3 537.9Q201.2 537.9 213.1 537.9L213.1 542.1Q201.2 542.1 189.3 542.1Z" fill="#000" fill-opacity="0.62" filter="url(#b2)"/>
<path d="M188.3 546.5Q201.2 546.5 214.1 546.5L214.1 550.7Q201.2 550.7 188.3 550.7Z" fill="#000" fill-opacity="0.98" filter="url(#b1)"/>
<path d="M188.3 547.4Q201.2 547.4 214.1 547.4L214.1 549.8Q201.2 549.8 188.3 549.8Z" fill="#000" fill-opacity="0.9" filter="url(#b1)"/>
<path d="M189.3 553.5Q201.2 553.5 213.1 553.5L213.1 556.5Q201.2 556.5 189.3 556.5Z" fill="#000" fill-opacity="0.95" filter="url(#b1)"/>
</g>
<rect x="42.6" y="532.3" width="173" height="27.4" fill="none" stroke="#222" stroke-width="1.3"/>
<rect x="42.6" y="563.1" width="173" height="27.6" fill="#f7f7f7"/>
<g clip-path="url(#cb1)">
<path d="M46.6 568.1Q57.1 569.1 67.6 568.1L67.6 570.9Q57.1 571.9 46.6 570.9Z" fill="#000" fill-opacity="0.93" filter="url(#b1)"/>
<path d="M49.1 569Q57.1 570 65.1 569L65.1 570.6Q57.1 571.6 49.1 570.6Z" fill="#000" fill-opacity="0.85" filter="url(#b1)"/>
<rect x="46.6" y="564" width="21" height="5" fill="#000" fill-opacity="0.05" filter="url(#b2)"/>
<path d="M74.7 568.1Q85.2 569.1 95.7 568.1L95.7 570.9Q85.2 571.9 74.7 570.9Z" fill="#000" fill-opacity="0.9" filter="url(#b1)"/>
<path d="M77.2 569Q85.2 570 93.2 569L93.2 570.6Q85.2 571.6 77.2 570.6Z" fill="#000" fill-opacity="0.85" filter="url(#b1)"/>
<rect x="74.7" y="564" width="21" height="5" fill="#000" fill-opacity="0.05" filter="url(#b2)"/>
<path d="M104.4 568.1Q114.9 569.1 125.4 568.1L125.4 570.9Q114.9 571.9 104.4 570.9Z" fill="#000" fill-opacity="0.95" filter="url(#b1)"/>
<path d="M106.9 569Q114.9 570 122.9 569L122.9 570.6Q114.9 571.6 106.9 570.6Z" fill="#000" fill-opacity="0.85" filter="url(#b1)"/>
<rect x="104.4" y="564" width="21" height="5" fill="#000" fill-opacity="0.05" filter="url(#b2)"/>
<path d="M131.4 568.1Q141.55 569.1 151.7 568.1L151.7 570.9Q141.55 571.9 131.4 570.9Z" fill="#000" fill-opacity="0.92" filter="url(#b1)"/>
<path d="M133.9 569Q141.55 570 149.2 569L149.2 570.6Q141.55 571.6 133.9 570.6Z" fill="#000" fill-opacity="0.85" filter="url(#b1)"/>
<rect x="131.4" y="564" width="20.3" height="5" fill="#000" fill-opacity="0.05" filter="url(#b2)"/>
<path d="M159.5 568.1Q170.7 569.1 181.9 568.1L181.9 570.9Q170.7 571.9 159.5 570.9Z" fill="#000" fill-opacity="0.95" filter="url(#b1)"/>
<path d="M162 569Q170.7 570 179.4 569L179.4 570.6Q170.7 571.6 162 570.6Z" fill="#000" fill-opacity="0.85" filter="url(#b1)"/>
<rect x="159.5" y="564" width="22.4" height="5" fill="#000" fill-opacity="0.05" filter="url(#b2)"/>
<path d="M190.3 568.1Q201.2 569.1 212.1 568.1L212.1 570.9Q201.2 571.9 190.3 570.9Z" fill="#000" fill-opacity="0.85" filter="url(#b1)"/>
<path d="M192.8 569Q201.2 570 209.6 569L209.6 570.6Q201.2 571.6 192.8 570.6Z" fill="#000" fill-opacity="0.85" filter="url(#b1)"/>
<rect x="190.3" y="564" width="21.8" height="5" fill="#000" fill-opacity="0.05" filter="url(#b2)"/>
<path d="M47.6 581.2Q57.1 581.5 66.6 581.2L66.6 583.6Q57.1 583.9 47.6 583.6Z" fill="#000" fill-opacity="0.04" filter="url(#b1)"/>
<path d="M75.7 581.2Q85.2 581.5 94.7 581.2L94.7 583.6Q85.2 583.9 75.7 583.6Z" fill="#000" fill-opacity="0.05" filter="url(#b1)"/>
<path d="M105.4 581.2Q114.9 581.5 124.4 581.2L124.4 583.6Q114.9 583.9 105.4 583.6Z" fill="#000" fill-opacity="0.05" filter="url(#b1)"/>
<path d="M132.4 581.2Q141.55 581.5 150.7 581.2L150.7 583.6Q141.55 583.9 132.4 583.6Z" fill="#000" fill-opacity="0.09" filter="url(#b1)"/>
<path d="M160.5 581.2Q170.7 581.5 180.9 581.2L180.9 583.6Q170.7 583.9 160.5 583.6Z" fill="#000" fill-opacity="0.22" filter="url(#b1)"/>
<path d="M191.3 580.8Q201.2 581.1 211.1 580.8L211.1 584Q201.2 584.3 191.3 584Z" fill="#000" fill-opacity="0.97" filter="url(#b1)"/>
<path d="M192.3 581.4Q201.2 581.7 210.1 581.4L210.1 583.4Q201.2 583.7 192.3 583.4Z" fill="#000" fill-opacity="0.8" filter="url(#b1)"/>
</g>
<rect x="42.6" y="563.1" width="173" height="27.6" fill="none" stroke="#222" stroke-width="1.3"/>
<rect x="42.6" y="592.9" width="173" height="28.3" fill="#d6d6d6"/>
<g clip-path="url(#cb2)">
<path d="M46.1 601.35Q57.1 601.85 68.1 601.35L68.1 604.65Q57.1 605.15 46.1 604.65Z" fill="#000" fill-opacity="0.97" filter="url(#b1)"/>
<path d="M74.2 603Q85.2 603.5 96.2 603L96.2 605.6Q85.2 606.1 74.2 605.6Z" fill="#000" fill-opacity="0.5" filter="url(#b1)"/>
<path d="M103.9 602.8Q114.9 603.3 125.9 602.8L125.9 605.8Q114.9 606.3 103.9 605.8Z" fill="#000" fill-opacity="0.8" filter="url(#b1)"/>
<path d="M130.9 603.4Q141.55 603.9 152.2 603.4L152.2 605.8Q141.55 606.3 130.9 605.8Z" fill="#000" fill-opacity="0.55" filter="url(#b1)"/>
<path d="M159 602.3Q170.7 602.8 182.4 602.3L182.4 604.9Q170.7 605.4 159 604.9Z" fill="#000" fill-opacity="0.62" filter="url(#b1)"/>
<path d="M189.8 602.8Q201.2 603.3 212.6 602.8L212.6 604.8Q201.2 605.3 189.8 604.8Z" fill="#000" fill-opacity="0.36" filter="url(#b1)"/>
<path d="M48.1 602.1Q57.1 602.6 66.1 602.1L66.1 603.9Q57.1 604.4 48.1 603.9Z" fill="#000" fill-opacity="0.8" filter="url(#b1)"/>
<path d="M48.1 609.1Q57.1 609.4 66.1 609.1L66.1 610.7Q57.1 611 48.1 610.7Z" fill="#000" fill-opacity="0.3" filter="url(#b2)"/>
<path d="M76.2 609.5Q85.2 609.8 94.2 609.5L94.2 611.3Q85.2 611.6 76.2 611.3Z" fill="#000" fill-opacity="0.42" filter="url(#b2)"/>
<path d="M105.9 610.7Q114.9 611 123.9 610.7L123.9 612.5Q114.9 612.8 105.9 612.5Z" fill="#000" fill-opacity="0.5" filter="url(#b2)"/>
<path d="M132.9 610.5Q141.55 610.8 150.2 610.5L150.2 612.7Q141.55 613 132.9 612.7Z" fill="#000" fill-opacity="0.72" filter="url(#b2)"/>
<path d="M161 610.1Q170.7 610.4 180.4 610.1L180.4 611.7Q170.7 612 161 611.7Z" fill="#000" fill-opacity="0.32" filter="url(#b2)"/>
<path d="M191.8 610.2Q201.2 610.5 210.6 610.2L210.6 612Q201.2 612.3 191.8 612Z" fill="#000" fill-opacity="0.55" filter="url(#b2)"/>
<rect x="42.6" y="615" width="173" height="6" fill="#fff" fill-opacity="0.25" filter="url(#b4)"/>
</g>
<rect x="42.6" y="592.9" width="173" height="28.3" fill="none" stroke="#222" stroke-width="1.3"/>
<rect x="42.6" y="623.3" width="173" height="27.6" fill="#f8f8f8"/>
<g clip-path="url(#cb3)">
<path d="M46.6 634Q57.1 634.9 67.6 634L67.6 638.6Q57.1 639.5 46.6 638.6Z" fill="#000" fill-opacity="0.97" filter="url(#b1)"/>
<path d="M48.1 634.9Q57.1 635.8 66.1 634.9L66.1 637.7Q57.1 638.6 48.1 637.7Z" fill="#000" fill-opacity="0.9" filter="url(#b1)"/>
<path d="M74.7 634.9Q85.2 635.8 95.7 634.9L95.7 639.5Q85.2 640.4 74.7 639.5Z" fill="#000" fill-opacity="0.97" filter="url(#b1)"/>
<path d="M76.2 635.8Q85.2 636.7 94.2 635.8L94.2 638.6Q85.2 639.5 76.2 638.6Z" fill="#000" fill-opacity="0.9" filter="url(#b1)"/>
<path d="M104.4 634.7Q114.9 635.6 125.4 634.7L125.4 639.3Q114.9 640.2 104.4 639.3Z" fill="#000" fill-opacity="0.97" filter="url(#b1)"/>
<path d="M105.9 635.6Q114.9 636.5 123.9 635.6L123.9 638.4Q114.9 639.3 105.9 638.4Z" fill="#000" fill-opacity="0.9" filter="url(#b1)"/>
<path d="M131.4 633.7Q141.55 634.6 151.7 633.7L151.7 638.3Q141.55 639.2 131.4 638.3Z" fill="#000" fill-opacity="0.97" filter="url(#b1)"/>
<path d="M132.9 634.6Q141.55 635.5 150.2 634.6L150.2 637.4Q141.55 638.3 132.9 637.4Z" fill="#000" fill-opacity="0.9" filter="url(#b1)"/>
<path d="M159.5 634.3Q170.7 635.2 181.9 634.3L181.9 638.9Q170.7 639.8 159.5 638.9Z" fill="#000" fill-opacity="0.97" filter="url(#b1)"/>
<path d="M161 635.2Q170.7 636.1 180.4 635.2L180.4 638Q170.7 638.9 161 638Z" fill="#000" fill-opacity="0.9" filter="url(#b1)"/>
<path d="M190.3 633.5Q201.2 634.4 212.1 633.5L212.1 638.1Q201.2 639 190.3 638.1Z" fill="#000" fill-opacity="0.97" filter="url(#b1)"/>
<path d="M191.8 634.4Q201.2 635.3 210.6 634.4L210.6 637.2Q201.2 638.1 191.8 637.2Z" fill="#000" fill-opacity="0.9" filter="url(#b1)"/>
</g>
<rect x="42.6" y="623.3" width="173" height="27.6" fill="none" stroke="#222" stroke-width="1.3"/>
<text x="34.4" y="544.6" font-family="Liberation Sans, sans-serif" font-weight="bold" stroke="#111" stroke-width="0.28" font-size="12.3" text-anchor="end" fill="#111" >25</text>
<line x1="35.9" y1="538.5" x2="42.6" y2="538.5" stroke="#111" stroke-width="1.3" />
<text x="34.4" y="559.7" font-family="Liberation Sans, sans-serif" font-weight="bold" stroke="#111" stroke-width="0.28" font-size="12.3" text-anchor="end" fill="#111" >17</text>
<line x1="35.9" y1="557.4" x2="42.6" y2="557.4" stroke="#111" stroke-width="1.3" />
<text x="34.4" y="573.2" font-family="Liberation Sans, sans-serif" font-weight="bold" stroke="#111" stroke-width="0.28" font-size="12.3" text-anchor="end" fill="#111" >100</text>
<line x1="35.9" y1="566.3" x2="42.6" y2="566.3" stroke="#111" stroke-width="1.3" />
<text x="34.4" y="590.3" font-family="Liberation Sans, sans-serif" font-weight="bold" stroke="#111" stroke-width="0.28" font-size="12.3" text-anchor="end" fill="#111" >75</text>
<line x1="35.9" y1="586.4" x2="42.6" y2="586.4" stroke="#111" stroke-width="1.3" />
<text x="34.4" y="600.8" font-family="Liberation Sans, sans-serif" font-weight="bold" stroke="#111" stroke-width="0.28" font-size="12.3" text-anchor="end" fill="#111" >63</text>
<line x1="35.9" y1="595.9" x2="42.6" y2="595.9" stroke="#111" stroke-width="1.3" />
<text x="34.4" y="632.4" font-family="Liberation Sans, sans-serif" font-weight="bold" stroke="#111" stroke-width="0.28" font-size="12.3" text-anchor="end" fill="#111" >48</text>
<line x1="35.9" y1="629.7" x2="42.6" y2="629.7" stroke="#111" stroke-width="1.3" />
<text x="0" y="0" font-family="Liberation Sans, sans-serif" font-weight="bold" stroke="#111" stroke-width="0.28" font-size="13.3" text-anchor="start" fill="#111" transform="translate(61.2 530) rotate(-57)" >Mock</text>
<text x="0" y="0" font-family="Liberation Sans, sans-serif" font-weight="bold" stroke="#111" stroke-width="0.28" font-size="13.3" text-anchor="start" fill="#111" transform="translate(87.8 530) rotate(-57)" >KD</text>
<text x="0" y="0" font-family="Liberation Sans, sans-serif" font-weight="bold" stroke="#111" stroke-width="0.28" font-size="13.3" text-anchor="start" fill="#111" transform="translate(116.3 530) rotate(-57)" >Mock</text>
<text x="0" y="0" font-family="Liberation Sans, sans-serif" font-weight="bold" stroke="#111" stroke-width="0.28" font-size="13.3" text-anchor="start" fill="#111" transform="translate(142 530) rotate(-57)" >KD</text>
<text x="0" y="0" font-family="Liberation Sans, sans-serif" font-weight="bold" stroke="#111" stroke-width="0.28" font-size="13.3" text-anchor="start" fill="#111" transform="translate(175.8 530) rotate(-57)" >Mock</text>
<text x="0" y="0" font-family="Liberation Sans, sans-serif" font-weight="bold" stroke="#111" stroke-width="0.28" font-size="13.3" text-anchor="start" fill="#111" transform="translate(200.9 530) rotate(-57)" >KD</text>
<text x="93.7" y="485.5" font-family="Liberation Sans, sans-serif" font-weight="bold" stroke="#111" stroke-width="0.28" font-size="13.6" text-anchor="start" fill="#111" >+DOX 24h</text>
<line x1="95.5" y1="492" x2="159.6" y2="492" stroke="#333" stroke-width="1.2" />
<text x="166.4" y="485.5" font-family="Liberation Sans, sans-serif" font-weight="bold" stroke="#111" stroke-width="0.28" font-size="13.6" text-anchor="start" fill="#111" >+DOX 48h</text>
<line x1="164.3" y1="492" x2="228.8" y2="492" stroke="#333" stroke-width="1.2" />
<text x="54.3" y="664.1" font-family="Liberation Sans, sans-serif" font-weight="bold" stroke="#111" stroke-width="0.28" font-size="12" text-anchor="middle" fill="#111" >1</text>
<text x="83.9" y="664.1" font-family="Liberation Sans, sans-serif" font-weight="bold" stroke="#111" stroke-width="0.28" font-size="12" text-anchor="middle" fill="#111" >2</text>
<text x="113.6" y="664.1" font-family="Liberation Sans, sans-serif" font-weight="bold" stroke="#111" stroke-width="0.28" font-size="12" text-anchor="middle" fill="#111" >3</text>
<text x="143.1" y="664.1" font-family="Liberation Sans, sans-serif" font-weight="bold" stroke="#111" stroke-width="0.28" font-size="12" text-anchor="middle" fill="#111" >4</text>
<text x="172.8" y="664.1" font-family="Liberation Sans, sans-serif" font-weight="bold" stroke="#111" stroke-width="0.28" font-size="12" text-anchor="middle" fill="#111" >5</text>
<text x="202.3" y="664.1" font-family="Liberation Sans, sans-serif" font-weight="bold" stroke="#111" stroke-width="0.28" font-size="12" text-anchor="middle" fill="#111" >6</text>
<line x1="215.6" y1="548.3" x2="222.6" y2="548.3" stroke="#111" stroke-width="1.3" />
<text x="224.3" y="551.9" font-family="Liberation Sans, sans-serif" font-weight="bold" stroke="#111" stroke-width="0.28" font-size="13.7" text-anchor="start" fill="#111" >cleaved caspase 3 (Asp175)</text>
<line x1="215.6" y1="568.3" x2="222.6" y2="568.3" stroke="#111" stroke-width="1.3" />
<text x="224.3" y="572.2" font-family="Liberation Sans, sans-serif" font-weight="bold" stroke="#111" stroke-width="0.28" font-size="13.7" text-anchor="start" fill="#111" >PARP1</text>
<line x1="215.6" y1="582.7" x2="222.6" y2="582.7" stroke="#111" stroke-width="1.3" />
<text x="224.3" y="586.2" font-family="Liberation Sans, sans-serif" font-weight="bold" stroke="#111" stroke-width="0.28" font-size="13.7" text-anchor="start" fill="#111" >cleaved PARP1 (Asp214)</text>
<line x1="215.6" y1="602.6" x2="222.6" y2="602.6" stroke="#111" stroke-width="1.3" />
<text x="224.3" y="606.1" font-family="Liberation Sans, sans-serif" font-weight="bold" stroke="#111" stroke-width="0.28" font-size="13.2" text-anchor="start" fill="#111" textLength="59" lengthAdjust="spacingAndGlyphs" >HERPUD1</text>
<line x1="215.6" y1="634.2" x2="222.6" y2="634.2" stroke="#111" stroke-width="1.3" />
<text x="224.3" y="637.8" font-family="Liberation Sans, sans-serif" font-weight="bold" stroke="#111" stroke-width="0.28" font-size="13.7" text-anchor="start" fill="#111" >β-ACTIN</text>
</svg>
</body></html>
